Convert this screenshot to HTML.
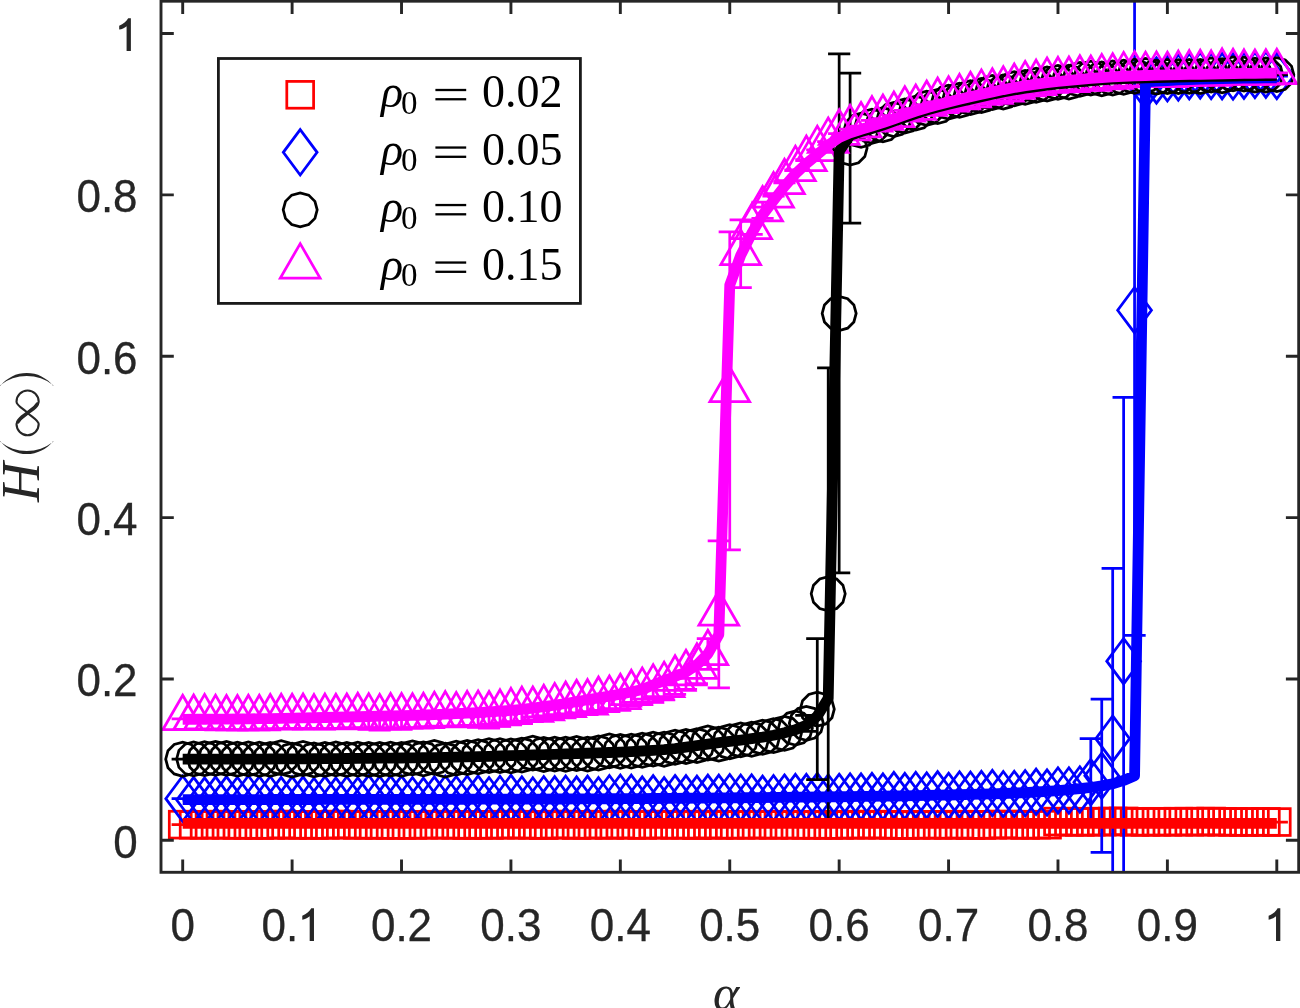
<!DOCTYPE html>
<html><head><meta charset="utf-8"><style>
html,body{margin:0;padding:0;background:#fff;}
svg{display:block;will-change:transform;}
</style></head><body>
<svg width="1300" height="1008" viewBox="0 0 1300 1008">
<rect width="1300" height="1008" fill="#fff"/>
<defs><clipPath id="c"><rect x="161.00" y="1.20" width="1137.70" height="871.10"/></clipPath></defs>
<g clip-path="url(#c)">
<g fill="none" stroke="#ff0000" stroke-width="2.75" stroke-linejoin="miter"><path d="M182.70 824.65V824.65M171.60 824.65H193.80M171.60 824.65H193.80M193.64 824.77V824.77M182.54 824.77H204.74M182.54 824.77H204.74M204.58 824.88V824.88M193.48 824.88H215.68M193.48 824.88H215.68M215.52 824.60V824.60M204.42 824.60H226.62M204.42 824.60H226.62M226.46 824.88V824.88M215.36 824.88H237.56M215.36 824.88H237.56M237.40 824.91V824.91M226.30 824.91H248.50M226.30 824.91H248.50M248.35 824.90V824.90M237.25 824.90H259.45M237.25 824.90H259.45M259.29 825.05V825.05M248.19 825.05H270.39M248.19 825.05H270.39M270.23 824.90V824.90M259.13 824.90H281.33M259.13 824.90H281.33M281.17 824.51V824.51M270.07 824.51H292.27M270.07 824.51H292.27M292.11 824.96V824.96M281.01 824.96H303.21M281.01 824.96H303.21M303.05 824.81V824.81M291.95 824.81H314.15M291.95 824.81H314.15M313.99 824.99V824.99M302.89 824.99H325.09M302.89 824.99H325.09M324.93 824.91V824.91M313.83 824.91H336.03M313.83 824.91H336.03M335.87 824.56V824.56M324.77 824.56H346.97M324.77 824.56H346.97M346.81 824.66V824.66M335.71 824.66H357.91M335.71 824.66H357.91M357.76 824.91V824.91M346.66 824.91H368.86M346.66 824.91H368.86M368.70 824.81V824.81M357.60 824.81H379.80M357.60 824.81H379.80M379.64 824.94V824.94M368.54 824.94H390.74M368.54 824.94H390.74M390.58 824.94V824.94M379.48 824.94H401.68M379.48 824.94H401.68M401.52 824.96V824.96M390.42 824.96H412.62M390.42 824.96H412.62M412.46 824.95V824.95M401.36 824.95H423.56M401.36 824.95H423.56M423.40 824.76V824.76M412.30 824.76H434.50M412.30 824.76H434.50M434.34 824.71V824.71M423.24 824.71H445.44M423.24 824.71H445.44M445.28 824.73V824.73M434.18 824.73H456.38M434.18 824.73H456.38M456.22 824.84V824.84M445.12 824.84H467.32M445.12 824.84H467.32M467.17 825.03V825.03M456.07 825.03H478.27M456.07 825.03H478.27M478.11 824.82V824.82M467.01 824.82H489.21M467.01 824.82H489.21M489.05 824.96V824.96M477.95 824.96H500.15M477.95 824.96H500.15M499.99 824.67V824.67M488.89 824.67H511.09M488.89 824.67H511.09M510.93 824.72V824.72M499.83 824.72H522.03M499.83 824.72H522.03M521.87 824.69V824.69M510.77 824.69H532.97M510.77 824.69H532.97M532.81 824.87V824.87M521.71 824.87H543.91M521.71 824.87H543.91M543.75 825.10V825.10M532.65 825.10H554.85M532.65 825.10H554.85M554.69 824.65V824.65M543.59 824.65H565.79M543.59 824.65H565.79M565.63 824.61V824.61M554.53 824.61H576.74M554.53 824.61H576.74M576.58 825.05V825.05M565.48 825.05H587.68M565.48 825.05H587.68M587.52 824.79V824.79M576.42 824.79H598.62M576.42 824.79H598.62M598.46 824.62V824.62M587.36 824.62H609.56M587.36 824.62H609.56M609.40 824.98V824.98M598.30 824.98H620.50M598.30 824.98H620.50M620.34 824.52V824.52M609.24 824.52H631.44M609.24 824.52H631.44M631.28 824.87V824.87M620.18 824.87H642.38M620.18 824.87H642.38M642.22 824.98V824.98M631.12 824.98H653.32M631.12 824.98H653.32M653.16 824.59V824.59M642.06 824.59H664.26M642.06 824.59H664.26M664.10 824.76V824.76M653.00 824.76H675.20M653.00 824.76H675.20M675.04 824.91V824.91M663.94 824.91H686.14M663.94 824.91H686.14M685.99 824.67V824.67M674.89 824.67H697.09M674.89 824.67H697.09M696.93 825.13V825.13M685.83 825.13H708.03M685.83 825.13H708.03M707.87 824.52V824.52M696.77 824.52H718.97M696.77 824.52H718.97M718.81 824.94V824.94M707.71 824.94H729.91M707.71 824.94H729.91M729.75 824.76V824.76M718.65 824.76H740.85M718.65 824.76H740.85M740.69 824.87V824.87M729.59 824.87H751.79M729.59 824.87H751.79M751.63 824.74V824.74M740.53 824.74H762.73M740.53 824.74H762.73M762.57 824.67V824.67M751.47 824.67H773.67M751.47 824.67H773.67M773.51 824.94V824.94M762.41 824.94H784.61M762.41 824.94H784.61M784.45 824.68V824.68M773.35 824.68H795.55M773.35 824.68H795.55M795.40 824.86V824.86M784.30 824.86H806.50M784.30 824.86H806.50M806.34 824.92V824.92M795.24 824.92H817.44M795.24 824.92H817.44M817.28 824.85V824.85M806.18 824.85H828.38M806.18 824.85H828.38M828.22 824.97V824.97M817.12 824.97H839.32M817.12 824.97H839.32M839.16 824.94V824.94M828.06 824.94H850.26M828.06 824.94H850.26M850.10 824.66V824.66M839.00 824.66H861.20M839.00 824.66H861.20M861.04 824.83V824.83M849.94 824.83H872.14M849.94 824.83H872.14M871.98 824.63V824.63M860.88 824.63H883.08M860.88 824.63H883.08M882.92 824.74V824.74M871.82 824.74H894.02M871.82 824.74H894.02M893.87 824.97V824.97M882.76 824.97H904.97M882.76 824.97H904.97M904.81 825.12V825.12M893.71 825.12H915.91M893.71 825.12H915.91M915.75 824.92V824.92M904.65 824.92H926.85M904.65 824.92H926.85M926.69 824.77V824.77M915.59 824.77H937.79M915.59 824.77H937.79M937.63 824.81V824.81M926.53 824.81H948.73M926.53 824.81H948.73M948.57 824.94V824.94M937.47 824.94H959.67M937.47 824.94H959.67M959.51 824.65V824.65M948.41 824.65H970.61M948.41 824.65H970.61M970.45 825.09V825.09M959.35 825.09H981.55M959.35 825.09H981.55M981.39 825.01V825.01M970.29 825.01H992.49M970.29 825.01H992.49M992.33 824.79V824.79M981.23 824.79H1003.43M981.23 824.79H1003.43M1003.27 824.46V824.46M992.17 824.46H1014.37M992.17 824.46H1014.37M1014.22 824.74V824.74M1003.12 824.74H1025.32M1003.12 824.74H1025.32M1025.16 824.97V824.97M1014.06 824.97H1036.26M1014.06 824.97H1036.26M1036.10 824.71V824.71M1025.00 824.71H1047.20M1025.00 824.71H1047.20M1047.04 824.70V824.70M1035.94 824.70H1058.14M1035.94 824.70H1058.14M1057.98 821.59V821.59M1046.88 821.59H1069.08M1046.88 821.59H1069.08M1068.92 821.81V821.81M1057.82 821.81H1080.02M1057.82 821.81H1080.02M1079.86 821.87V821.87M1068.76 821.87H1090.96M1068.76 821.87H1090.96M1090.80 821.72V821.72M1079.70 821.72H1101.90M1079.70 821.72H1101.90M1101.74 821.68V821.68M1090.64 821.68H1112.84M1090.64 821.68H1112.84M1112.68 821.49V821.49M1101.59 821.49H1123.78M1101.59 821.49H1123.78M1123.63 821.41V821.41M1112.53 821.41H1134.73M1112.53 821.41H1134.73M1134.57 821.86V821.86M1123.47 821.86H1145.67M1123.47 821.86H1145.67M1145.51 821.83V821.83M1134.41 821.83H1156.61M1134.41 821.83H1156.61M1156.45 821.75V821.75M1145.35 821.75H1167.55M1145.35 821.75H1167.55M1167.39 821.78V821.78M1156.29 821.78H1178.49M1156.29 821.78H1178.49M1178.33 821.67V821.67M1167.23 821.67H1189.43M1167.23 821.67H1189.43M1189.27 821.67V821.67M1178.17 821.67H1200.37M1178.17 821.67H1200.37M1200.21 821.70V821.70M1189.11 821.70H1211.31M1189.11 821.70H1211.31M1211.15 821.53V821.53M1200.05 821.53H1222.25M1200.05 821.53H1222.25M1222.09 821.77V821.77M1210.99 821.77H1233.19M1210.99 821.77H1233.19M1233.04 821.91V821.91M1221.94 821.91H1244.14M1221.94 821.91H1244.14M1243.98 822.00V822.00M1232.88 822.00H1255.08M1232.88 822.00H1255.08M1254.92 821.91V821.91M1243.82 821.91H1266.02M1243.82 821.91H1266.02M1265.86 821.91V821.91M1254.76 821.91H1276.96M1254.76 821.91H1276.96M1276.80 822.05V822.05M1265.70 822.05H1287.90M1265.70 822.05H1287.90"/><rect x="169.30" y="811.25" width="26.80" height="26.80"/><rect x="180.24" y="811.37" width="26.80" height="26.80"/><rect x="191.18" y="811.48" width="26.80" height="26.80"/><rect x="202.12" y="811.20" width="26.80" height="26.80"/><rect x="213.06" y="811.48" width="26.80" height="26.80"/><rect x="224.00" y="811.51" width="26.80" height="26.80"/><rect x="234.95" y="811.50" width="26.80" height="26.80"/><rect x="245.89" y="811.65" width="26.80" height="26.80"/><rect x="256.83" y="811.50" width="26.80" height="26.80"/><rect x="267.77" y="811.11" width="26.80" height="26.80"/><rect x="278.71" y="811.56" width="26.80" height="26.80"/><rect x="289.65" y="811.41" width="26.80" height="26.80"/><rect x="300.59" y="811.59" width="26.80" height="26.80"/><rect x="311.53" y="811.51" width="26.80" height="26.80"/><rect x="322.47" y="811.16" width="26.80" height="26.80"/><rect x="333.41" y="811.26" width="26.80" height="26.80"/><rect x="344.36" y="811.51" width="26.80" height="26.80"/><rect x="355.30" y="811.41" width="26.80" height="26.80"/><rect x="366.24" y="811.54" width="26.80" height="26.80"/><rect x="377.18" y="811.54" width="26.80" height="26.80"/><rect x="388.12" y="811.56" width="26.80" height="26.80"/><rect x="399.06" y="811.55" width="26.80" height="26.80"/><rect x="410.00" y="811.36" width="26.80" height="26.80"/><rect x="420.94" y="811.31" width="26.80" height="26.80"/><rect x="431.88" y="811.33" width="26.80" height="26.80"/><rect x="442.82" y="811.44" width="26.80" height="26.80"/><rect x="453.77" y="811.63" width="26.80" height="26.80"/><rect x="464.71" y="811.42" width="26.80" height="26.80"/><rect x="475.65" y="811.56" width="26.80" height="26.80"/><rect x="486.59" y="811.27" width="26.80" height="26.80"/><rect x="497.53" y="811.32" width="26.80" height="26.80"/><rect x="508.47" y="811.29" width="26.80" height="26.80"/><rect x="519.41" y="811.47" width="26.80" height="26.80"/><rect x="530.35" y="811.70" width="26.80" height="26.80"/><rect x="541.29" y="811.25" width="26.80" height="26.80"/><rect x="552.24" y="811.21" width="26.80" height="26.80"/><rect x="563.18" y="811.65" width="26.80" height="26.80"/><rect x="574.12" y="811.39" width="26.80" height="26.80"/><rect x="585.06" y="811.22" width="26.80" height="26.80"/><rect x="596.00" y="811.58" width="26.80" height="26.80"/><rect x="606.94" y="811.12" width="26.80" height="26.80"/><rect x="617.88" y="811.47" width="26.80" height="26.80"/><rect x="628.82" y="811.58" width="26.80" height="26.80"/><rect x="639.76" y="811.19" width="26.80" height="26.80"/><rect x="650.70" y="811.36" width="26.80" height="26.80"/><rect x="661.64" y="811.51" width="26.80" height="26.80"/><rect x="672.59" y="811.27" width="26.80" height="26.80"/><rect x="683.53" y="811.73" width="26.80" height="26.80"/><rect x="694.47" y="811.12" width="26.80" height="26.80"/><rect x="705.41" y="811.54" width="26.80" height="26.80"/><rect x="716.35" y="811.36" width="26.80" height="26.80"/><rect x="727.29" y="811.47" width="26.80" height="26.80"/><rect x="738.23" y="811.34" width="26.80" height="26.80"/><rect x="749.17" y="811.27" width="26.80" height="26.80"/><rect x="760.11" y="811.54" width="26.80" height="26.80"/><rect x="771.05" y="811.28" width="26.80" height="26.80"/><rect x="782.00" y="811.46" width="26.80" height="26.80"/><rect x="792.94" y="811.52" width="26.80" height="26.80"/><rect x="803.88" y="811.45" width="26.80" height="26.80"/><rect x="814.82" y="811.57" width="26.80" height="26.80"/><rect x="825.76" y="811.54" width="26.80" height="26.80"/><rect x="836.70" y="811.26" width="26.80" height="26.80"/><rect x="847.64" y="811.43" width="26.80" height="26.80"/><rect x="858.58" y="811.23" width="26.80" height="26.80"/><rect x="869.52" y="811.34" width="26.80" height="26.80"/><rect x="880.47" y="811.57" width="26.80" height="26.80"/><rect x="891.41" y="811.72" width="26.80" height="26.80"/><rect x="902.35" y="811.52" width="26.80" height="26.80"/><rect x="913.29" y="811.37" width="26.80" height="26.80"/><rect x="924.23" y="811.41" width="26.80" height="26.80"/><rect x="935.17" y="811.54" width="26.80" height="26.80"/><rect x="946.11" y="811.25" width="26.80" height="26.80"/><rect x="957.05" y="811.69" width="26.80" height="26.80"/><rect x="967.99" y="811.61" width="26.80" height="26.80"/><rect x="978.93" y="811.39" width="26.80" height="26.80"/><rect x="989.87" y="811.06" width="26.80" height="26.80"/><rect x="1000.82" y="811.34" width="26.80" height="26.80"/><rect x="1011.76" y="811.57" width="26.80" height="26.80"/><rect x="1022.70" y="811.31" width="26.80" height="26.80"/><rect x="1033.64" y="811.30" width="26.80" height="26.80"/><rect x="1044.58" y="808.19" width="26.80" height="26.80"/><rect x="1055.52" y="808.41" width="26.80" height="26.80"/><rect x="1066.46" y="808.47" width="26.80" height="26.80"/><rect x="1077.40" y="808.32" width="26.80" height="26.80"/><rect x="1088.34" y="808.28" width="26.80" height="26.80"/><rect x="1099.28" y="808.09" width="26.80" height="26.80"/><rect x="1110.23" y="808.01" width="26.80" height="26.80"/><rect x="1121.17" y="808.46" width="26.80" height="26.80"/><rect x="1132.11" y="808.43" width="26.80" height="26.80"/><rect x="1143.05" y="808.35" width="26.80" height="26.80"/><rect x="1153.99" y="808.38" width="26.80" height="26.80"/><rect x="1164.93" y="808.27" width="26.80" height="26.80"/><rect x="1175.87" y="808.27" width="26.80" height="26.80"/><rect x="1186.81" y="808.30" width="26.80" height="26.80"/><rect x="1197.75" y="808.13" width="26.80" height="26.80"/><rect x="1208.69" y="808.37" width="26.80" height="26.80"/><rect x="1219.64" y="808.51" width="26.80" height="26.80"/><rect x="1230.58" y="808.60" width="26.80" height="26.80"/><rect x="1241.52" y="808.51" width="26.80" height="26.80"/><rect x="1252.46" y="808.51" width="26.80" height="26.80"/><rect x="1263.40" y="808.65" width="26.80" height="26.80"/></g>
<g fill="none" stroke="#0000ff" stroke-width="2.75" stroke-linejoin="miter"><path d="M182.70 798.65V798.65M171.60 798.65H193.80M171.60 798.65H193.80M193.64 800.10V800.10M182.54 800.10H204.74M182.54 800.10H204.74M204.58 800.52V800.52M193.48 800.52H215.68M193.48 800.52H215.68M215.52 799.58V799.58M204.42 799.58H226.62M204.42 799.58H226.62M226.46 799.31V799.31M215.36 799.31H237.56M215.36 799.31H237.56M237.40 799.97V799.97M226.30 799.97H248.50M226.30 799.97H248.50M248.35 798.49V798.49M237.25 798.49H259.45M237.25 798.49H259.45M259.29 799.37V799.37M248.19 799.37H270.39M248.19 799.37H270.39M270.23 799.23V799.23M259.13 799.23H281.33M259.13 799.23H281.33M281.17 800.07V800.07M270.07 800.07H292.27M270.07 800.07H292.27M292.11 799.53V799.53M281.01 799.53H303.21M281.01 799.53H303.21M303.05 799.59V799.59M291.95 799.59H314.15M291.95 799.59H314.15M313.99 800.95V800.95M302.89 800.95H325.09M302.89 800.95H325.09M324.93 799.28V799.28M313.83 799.28H336.03M313.83 799.28H336.03M335.87 800.61V800.61M324.77 800.61H346.97M324.77 800.61H346.97M346.81 799.46V799.46M335.71 799.46H357.91M335.71 799.46H357.91M357.76 800.38V800.38M346.66 800.38H368.86M346.66 800.38H368.86M368.70 798.11V798.11M357.60 798.11H379.80M357.60 798.11H379.80M379.64 799.18V799.18M368.54 799.18H390.74M368.54 799.18H390.74M390.58 798.82V798.82M379.48 798.82H401.68M379.48 798.82H401.68M401.52 798.77V798.77M390.42 798.77H412.62M390.42 798.77H412.62M412.46 800.20V800.20M401.36 800.20H423.56M401.36 800.20H423.56M423.40 800.80V800.80M412.30 800.80H434.50M412.30 800.80H434.50M434.34 799.52V799.52M423.24 799.52H445.44M423.24 799.52H445.44M445.28 798.70V798.70M434.18 798.70H456.38M434.18 798.70H456.38M456.22 799.20V799.20M445.12 799.20H467.32M445.12 799.20H467.32M467.17 798.74V798.74M456.07 798.74H478.27M456.07 798.74H478.27M478.11 798.62V798.62M467.01 798.62H489.21M467.01 798.62H489.21M489.05 800.16V800.16M477.95 800.16H500.15M477.95 800.16H500.15M499.99 798.99V798.99M488.89 798.99H511.09M488.89 798.99H511.09M510.93 797.88V797.88M499.83 797.88H522.03M499.83 797.88H522.03M521.87 799.50V799.50M510.77 799.50H532.97M510.77 799.50H532.97M532.81 800.41V800.41M521.71 800.41H543.91M521.71 800.41H543.91M543.75 799.21V799.21M532.65 799.21H554.85M532.65 799.21H554.85M554.69 799.32V799.32M543.59 799.32H565.79M543.59 799.32H565.79M565.63 798.71V798.71M554.53 798.71H576.74M554.53 798.71H576.74M576.58 799.51V799.51M565.48 799.51H587.68M565.48 799.51H587.68M587.52 798.82V798.82M576.42 798.82H598.62M576.42 798.82H598.62M598.46 800.25V800.25M587.36 800.25H609.56M587.36 800.25H609.56M609.40 798.21V798.21M598.30 798.21H620.50M598.30 798.21H620.50M620.34 797.67V797.67M609.24 797.67H631.44M609.24 797.67H631.44M631.28 797.79V797.79M620.18 797.79H642.38M620.18 797.79H642.38M642.22 799.54V799.54M631.12 799.54H653.32M631.12 799.54H653.32M653.16 798.28V798.28M642.06 798.28H664.26M642.06 798.28H664.26M664.10 800.33V800.33M653.00 800.33H675.20M653.00 800.33H675.20M675.04 798.14V798.14M663.94 798.14H686.14M663.94 798.14H686.14M685.99 798.28V798.28M674.89 798.28H697.09M674.89 798.28H697.09M696.93 798.79V798.79M685.83 798.79H708.03M685.83 798.79H708.03M707.87 797.83V797.83M696.77 797.83H718.97M696.77 797.83H718.97M718.81 797.87V797.87M707.71 797.87H729.91M707.71 797.87H729.91M729.75 797.25V797.25M718.65 797.25H740.85M718.65 797.25H740.85M740.69 797.67V797.67M729.59 797.67H751.79M729.59 797.67H751.79M751.63 797.50V797.50M740.53 797.50H762.73M740.53 797.50H762.73M762.57 798.80V798.80M751.47 798.80H773.67M751.47 798.80H773.67M773.51 798.19V798.19M762.41 798.19H784.61M762.41 798.19H784.61M784.45 797.63V797.63M773.35 797.63H795.55M773.35 797.63H795.55M795.40 797.02V797.02M784.30 797.02H806.50M784.30 797.02H806.50M806.34 797.10V797.10M795.24 797.10H817.44M795.24 797.10H817.44M817.28 796.01V796.01M806.18 796.01H828.38M806.18 796.01H828.38M828.22 797.42V797.42M817.12 797.42H839.32M817.12 797.42H839.32M839.16 796.89V796.89M828.06 796.89H850.26M828.06 796.89H850.26M850.10 796.44V796.44M839.00 796.44H861.20M839.00 796.44H861.20M861.04 796.62V796.62M849.94 796.62H872.14M849.94 796.62H872.14M871.98 796.01V796.01M860.88 796.01H883.08M860.88 796.01H883.08M882.92 796.54V796.54M871.82 796.54H894.02M871.82 796.54H894.02M893.87 795.09V795.09M882.76 795.09H904.97M882.76 795.09H904.97M904.81 796.04V796.04M893.71 796.04H915.91M893.71 796.04H915.91M915.75 794.92V794.92M904.65 794.92H926.85M904.65 794.92H926.85M926.69 795.46V795.46M915.59 795.46H937.79M915.59 795.46H937.79M937.63 794.26V794.26M926.53 794.26H948.73M926.53 794.26H948.73M948.57 795.89V795.89M937.47 795.89H959.67M937.47 795.89H959.67M959.51 794.40V794.40M948.41 794.40H970.61M948.41 794.40H970.61M970.45 794.73V794.73M959.35 794.73H981.55M959.35 794.73H981.55M981.39 794.01V794.01M970.29 794.01H992.49M970.29 794.01H992.49M992.33 793.07V793.07M981.23 793.07H1003.43M981.23 793.07H1003.43M1003.27 794.24V794.24M992.17 794.24H1014.37M992.17 794.24H1014.37M1014.22 793.96V793.96M1003.12 793.96H1025.32M1003.12 793.96H1025.32M1025.16 793.25V793.25M1014.06 793.25H1036.26M1014.06 793.25H1036.26M1036.10 791.84V791.84M1025.00 791.84H1047.20M1025.00 791.84H1047.20M1047.04 792.53V792.53M1035.94 792.53H1058.14M1035.94 792.53H1058.14M1057.98 790.46V790.46M1046.88 790.46H1069.08M1046.88 790.46H1069.08M1068.92 790.47V790.47M1057.82 790.47H1080.02M1057.82 790.47H1080.02M1079.86 789.40V789.40M1068.76 789.40H1090.96M1068.76 789.40H1090.96M1090.80 738.64V825.78M1079.70 738.64H1101.90M1079.70 825.78H1101.90M1101.74 699.11V852.40M1090.64 699.11H1112.84M1090.64 852.40H1112.84M1112.68 568.41V908.88M1101.59 568.41H1123.78M1101.59 908.88H1123.78M1123.63 397.37V925.01M1112.53 397.37H1134.73M1112.53 925.01H1134.73M1134.57 -14.91V635.37M1123.47 -14.91H1145.67M1123.47 635.37H1145.67M1145.51 77.87V94.01M1134.41 77.87H1156.61M1134.41 94.01H1156.61M1156.45 80.48V80.48M1145.35 80.48H1167.55M1145.35 80.48H1167.55M1167.39 78.35V78.35M1156.29 78.35H1178.49M1156.29 78.35H1178.49M1178.33 77.43V77.43M1167.23 77.43H1189.43M1167.23 77.43H1189.43M1189.27 76.36V76.36M1178.17 76.36H1200.37M1178.17 76.36H1200.37M1200.21 75.43V75.43M1189.11 75.43H1211.31M1189.11 75.43H1211.31M1211.15 76.02V76.02M1200.05 76.02H1222.25M1200.05 76.02H1222.25M1222.09 76.13V76.13M1210.99 76.13H1233.19M1210.99 76.13H1233.19M1233.04 76.56V76.56M1221.94 76.56H1244.14M1221.94 76.56H1244.14M1243.98 75.68V75.68M1232.88 75.68H1255.08M1232.88 75.68H1255.08M1254.92 75.08V75.08M1243.82 75.08H1266.02M1243.82 75.08H1266.02M1265.86 74.67V74.67M1254.76 74.67H1276.96M1254.76 74.67H1276.96M1276.80 76.02V76.02M1265.70 76.02H1287.90M1265.70 76.02H1287.90"/><path d="M182.70 775.95L199.60 798.65L182.70 821.35L165.80 798.65Z"/><path d="M193.64 777.40L210.54 800.10L193.64 822.80L176.74 800.10Z"/><path d="M204.58 777.82L221.48 800.52L204.58 823.22L187.68 800.52Z"/><path d="M215.52 776.88L232.42 799.58L215.52 822.28L198.62 799.58Z"/><path d="M226.46 776.61L243.36 799.31L226.46 822.01L209.56 799.31Z"/><path d="M237.40 777.27L254.30 799.97L237.40 822.67L220.50 799.97Z"/><path d="M248.35 775.79L265.25 798.49L248.35 821.19L231.45 798.49Z"/><path d="M259.29 776.67L276.19 799.37L259.29 822.07L242.39 799.37Z"/><path d="M270.23 776.53L287.13 799.23L270.23 821.93L253.33 799.23Z"/><path d="M281.17 777.37L298.07 800.07L281.17 822.77L264.27 800.07Z"/><path d="M292.11 776.83L309.01 799.53L292.11 822.23L275.21 799.53Z"/><path d="M303.05 776.89L319.95 799.59L303.05 822.29L286.15 799.59Z"/><path d="M313.99 778.25L330.89 800.95L313.99 823.65L297.09 800.95Z"/><path d="M324.93 776.58L341.83 799.28L324.93 821.98L308.03 799.28Z"/><path d="M335.87 777.91L352.77 800.61L335.87 823.31L318.97 800.61Z"/><path d="M346.81 776.76L363.71 799.46L346.81 822.16L329.91 799.46Z"/><path d="M357.76 777.68L374.66 800.38L357.76 823.08L340.86 800.38Z"/><path d="M368.70 775.41L385.60 798.11L368.70 820.81L351.80 798.11Z"/><path d="M379.64 776.48L396.54 799.18L379.64 821.88L362.74 799.18Z"/><path d="M390.58 776.12L407.48 798.82L390.58 821.52L373.68 798.82Z"/><path d="M401.52 776.07L418.42 798.77L401.52 821.47L384.62 798.77Z"/><path d="M412.46 777.50L429.36 800.20L412.46 822.90L395.56 800.20Z"/><path d="M423.40 778.10L440.30 800.80L423.40 823.50L406.50 800.80Z"/><path d="M434.34 776.82L451.24 799.52L434.34 822.22L417.44 799.52Z"/><path d="M445.28 776.00L462.18 798.70L445.28 821.40L428.38 798.70Z"/><path d="M456.22 776.50L473.12 799.20L456.22 821.90L439.32 799.20Z"/><path d="M467.17 776.04L484.07 798.74L467.17 821.44L450.27 798.74Z"/><path d="M478.11 775.92L495.01 798.62L478.11 821.32L461.21 798.62Z"/><path d="M489.05 777.46L505.95 800.16L489.05 822.86L472.15 800.16Z"/><path d="M499.99 776.29L516.89 798.99L499.99 821.69L483.09 798.99Z"/><path d="M510.93 775.18L527.83 797.88L510.93 820.58L494.03 797.88Z"/><path d="M521.87 776.80L538.77 799.50L521.87 822.20L504.97 799.50Z"/><path d="M532.81 777.71L549.71 800.41L532.81 823.11L515.91 800.41Z"/><path d="M543.75 776.51L560.65 799.21L543.75 821.91L526.85 799.21Z"/><path d="M554.69 776.62L571.59 799.32L554.69 822.02L537.79 799.32Z"/><path d="M565.63 776.01L582.53 798.71L565.63 821.41L548.74 798.71Z"/><path d="M576.58 776.81L593.48 799.51L576.58 822.21L559.68 799.51Z"/><path d="M587.52 776.12L604.42 798.82L587.52 821.52L570.62 798.82Z"/><path d="M598.46 777.55L615.36 800.25L598.46 822.95L581.56 800.25Z"/><path d="M609.40 775.51L626.30 798.21L609.40 820.91L592.50 798.21Z"/><path d="M620.34 774.97L637.24 797.67L620.34 820.37L603.44 797.67Z"/><path d="M631.28 775.09L648.18 797.79L631.28 820.49L614.38 797.79Z"/><path d="M642.22 776.84L659.12 799.54L642.22 822.24L625.32 799.54Z"/><path d="M653.16 775.58L670.06 798.28L653.16 820.98L636.26 798.28Z"/><path d="M664.10 777.63L681.00 800.33L664.10 823.03L647.20 800.33Z"/><path d="M675.04 775.44L691.94 798.14L675.04 820.84L658.14 798.14Z"/><path d="M685.99 775.58L702.89 798.28L685.99 820.98L669.09 798.28Z"/><path d="M696.93 776.09L713.83 798.79L696.93 821.49L680.03 798.79Z"/><path d="M707.87 775.13L724.77 797.83L707.87 820.53L690.97 797.83Z"/><path d="M718.81 775.17L735.71 797.87L718.81 820.57L701.91 797.87Z"/><path d="M729.75 774.55L746.65 797.25L729.75 819.95L712.85 797.25Z"/><path d="M740.69 774.97L757.59 797.67L740.69 820.37L723.79 797.67Z"/><path d="M751.63 774.80L768.53 797.50L751.63 820.20L734.73 797.50Z"/><path d="M762.57 776.10L779.47 798.80L762.57 821.50L745.67 798.80Z"/><path d="M773.51 775.49L790.41 798.19L773.51 820.89L756.61 798.19Z"/><path d="M784.45 774.93L801.35 797.63L784.45 820.33L767.55 797.63Z"/><path d="M795.40 774.32L812.30 797.02L795.40 819.72L778.50 797.02Z"/><path d="M806.34 774.40L823.24 797.10L806.34 819.80L789.44 797.10Z"/><path d="M817.28 773.31L834.18 796.01L817.28 818.71L800.38 796.01Z"/><path d="M828.22 774.72L845.12 797.42L828.22 820.12L811.32 797.42Z"/><path d="M839.16 774.19L856.06 796.89L839.16 819.59L822.26 796.89Z"/><path d="M850.10 773.74L867.00 796.44L850.10 819.14L833.20 796.44Z"/><path d="M861.04 773.92L877.94 796.62L861.04 819.32L844.14 796.62Z"/><path d="M871.98 773.31L888.88 796.01L871.98 818.71L855.08 796.01Z"/><path d="M882.92 773.84L899.82 796.54L882.92 819.24L866.02 796.54Z"/><path d="M893.87 772.39L910.76 795.09L893.87 817.79L876.97 795.09Z"/><path d="M904.81 773.34L921.71 796.04L904.81 818.74L887.91 796.04Z"/><path d="M915.75 772.22L932.65 794.92L915.75 817.62L898.85 794.92Z"/><path d="M926.69 772.76L943.59 795.46L926.69 818.16L909.79 795.46Z"/><path d="M937.63 771.56L954.53 794.26L937.63 816.96L920.73 794.26Z"/><path d="M948.57 773.19L965.47 795.89L948.57 818.59L931.67 795.89Z"/><path d="M959.51 771.70L976.41 794.40L959.51 817.10L942.61 794.40Z"/><path d="M970.45 772.03L987.35 794.73L970.45 817.43L953.55 794.73Z"/><path d="M981.39 771.31L998.29 794.01L981.39 816.71L964.49 794.01Z"/><path d="M992.33 770.37L1009.23 793.07L992.33 815.77L975.43 793.07Z"/><path d="M1003.27 771.54L1020.17 794.24L1003.27 816.94L986.37 794.24Z"/><path d="M1014.22 771.26L1031.12 793.96L1014.22 816.66L997.32 793.96Z"/><path d="M1025.16 770.55L1042.06 793.25L1025.16 815.95L1008.26 793.25Z"/><path d="M1036.10 769.14L1053.00 791.84L1036.10 814.54L1019.20 791.84Z"/><path d="M1047.04 769.83L1063.94 792.53L1047.04 815.23L1030.14 792.53Z"/><path d="M1057.98 767.76L1074.88 790.46L1057.98 813.16L1041.08 790.46Z"/><path d="M1068.92 767.77L1085.82 790.47L1068.92 813.17L1052.02 790.47Z"/><path d="M1079.86 766.70L1096.76 789.40L1079.86 812.10L1062.96 789.40Z"/><path d="M1090.80 759.51L1107.70 782.21L1090.80 804.91L1073.90 782.21Z"/><path d="M1101.74 753.06L1118.64 775.76L1101.74 798.46L1084.84 775.76Z"/><path d="M1112.68 715.94L1129.59 738.64L1112.68 761.34L1095.78 738.64Z"/><path d="M1123.63 638.49L1140.53 661.19L1123.63 683.89L1106.73 661.19Z"/><path d="M1134.57 287.53L1151.47 310.23L1134.57 332.93L1117.67 310.23Z"/><path d="M1145.51 63.24L1162.41 85.94L1145.51 108.64L1128.61 85.94Z"/><path d="M1156.45 57.78L1173.35 80.48L1156.45 103.18L1139.55 80.48Z"/><path d="M1167.39 55.65L1184.29 78.35L1167.39 101.05L1150.49 78.35Z"/><path d="M1178.33 54.73L1195.23 77.43L1178.33 100.13L1161.43 77.43Z"/><path d="M1189.27 53.66L1206.17 76.36L1189.27 99.06L1172.37 76.36Z"/><path d="M1200.21 52.73L1217.11 75.43L1200.21 98.13L1183.31 75.43Z"/><path d="M1211.15 53.32L1228.05 76.02L1211.15 98.72L1194.25 76.02Z"/><path d="M1222.09 53.43L1238.99 76.13L1222.09 98.83L1205.19 76.13Z"/><path d="M1233.04 53.86L1249.94 76.56L1233.04 99.26L1216.14 76.56Z"/><path d="M1243.98 52.98L1260.88 75.68L1243.98 98.38L1227.08 75.68Z"/><path d="M1254.92 52.38L1271.82 75.08L1254.92 97.78L1238.02 75.08Z"/><path d="M1265.86 51.97L1282.76 74.67L1265.86 97.37L1248.96 74.67Z"/><path d="M1276.80 53.32L1293.70 76.02L1276.80 98.72L1259.90 76.02Z"/></g>
<g fill="none" stroke="#000000" stroke-width="2.75" stroke-linejoin="miter"><path d="M182.70 759.23V759.23M171.60 759.23H193.80M171.60 759.23H193.80M193.64 758.90V758.90M182.54 758.90H204.74M182.54 758.90H204.74M204.58 758.70V758.70M193.48 758.70H215.68M193.48 758.70H215.68M215.52 758.30V758.30M204.42 758.30H226.62M204.42 758.30H226.62M226.46 758.42V758.42M215.36 758.42H237.56M215.36 758.42H237.56M237.40 759.19V759.19M226.30 759.19H248.50M226.30 759.19H248.50M248.35 758.83V758.83M237.25 758.83H259.45M237.25 758.83H259.45M259.29 759.29V759.29M248.19 759.29H270.39M248.19 759.29H270.39M270.23 759.37V759.37M259.13 759.37H281.33M259.13 759.37H281.33M281.17 757.70V757.70M270.07 757.70H292.27M270.07 757.70H292.27M292.11 760.13V760.13M281.01 760.13H303.21M281.01 760.13H303.21M303.05 758.48V758.48M291.95 758.48H314.15M291.95 758.48H314.15M313.99 759.92V759.92M302.89 759.92H325.09M302.89 759.92H325.09M324.93 759.45V759.45M313.83 759.45H336.03M313.83 759.45H336.03M335.87 758.83V758.83M324.77 758.83H346.97M324.77 758.83H346.97M346.81 759.43V759.43M335.71 759.43H357.91M335.71 759.43H357.91M357.76 759.11V759.11M346.66 759.11H368.86M346.66 759.11H368.86M368.70 759.42V759.42M357.60 759.42H379.80M357.60 759.42H379.80M379.64 759.48V759.48M368.54 759.48H390.74M368.54 759.48H390.74M390.58 759.18V759.18M379.48 759.18H401.68M379.48 759.18H401.68M401.52 759.39V759.39M390.42 759.39H412.62M390.42 759.39H412.62M412.46 757.80V757.80M401.36 757.80H423.56M401.36 757.80H423.56M423.40 758.81V758.81M412.30 758.81H434.50M412.30 758.81H434.50M434.34 757.42V757.42M423.24 757.42H445.44M423.24 757.42H445.44M445.28 760.06V760.06M434.18 760.06H456.38M434.18 760.06H456.38M456.22 758.08V758.08M445.12 758.08H467.32M445.12 758.08H467.32M467.17 757.48V757.48M456.07 757.48H478.27M456.07 757.48H478.27M478.11 756.79V756.79M467.01 756.79H489.21M467.01 756.79H489.21M489.05 755.60V755.60M477.95 755.60H500.15M477.95 755.60H500.15M499.99 755.59V755.59M488.89 755.59H511.09M488.89 755.59H511.09M510.93 755.86V755.86M499.83 755.86H522.03M499.83 755.86H522.03M521.87 755.07V755.07M510.77 755.07H532.97M510.77 755.07H532.97M532.81 753.20V753.20M521.71 753.20H543.91M521.71 753.20H543.91M543.75 754.51V754.51M532.65 754.51H554.85M532.65 754.51H554.85M554.69 754.13V754.13M543.59 754.13H565.79M543.59 754.13H565.79M565.63 754.26V754.26M554.53 754.26H576.74M554.53 754.26H576.74M576.58 753.54V753.54M565.48 753.54H587.68M565.48 753.54H587.68M587.52 754.10V754.10M576.42 754.10H598.62M576.42 754.10H598.62M598.46 753.02V753.02M587.36 753.02H609.56M587.36 753.02H609.56M609.40 750.90V750.90M598.30 750.90H620.50M598.30 750.90H620.50M620.34 751.35V751.35M609.24 751.35H631.44M609.24 751.35H631.44M631.28 751.13V751.13M620.18 751.13H642.38M620.18 751.13H642.38M642.22 750.27V750.27M631.12 750.27H653.32M631.12 750.27H653.32M653.16 749.14V749.14M642.06 749.14H664.26M642.06 749.14H664.26M664.10 749.23V749.23M653.00 749.23H675.20M653.00 749.23H675.20M675.04 747.21V747.21M663.94 747.21H686.14M663.94 747.21H686.14M685.99 746.51V746.51M674.89 746.51H697.09M674.89 746.51H697.09M696.93 745.58V745.58M685.83 745.58H708.03M685.83 745.58H708.03M707.87 743.04V743.04M696.77 743.04H718.97M696.77 743.04H718.97M718.81 744.20V744.20M707.71 744.20H729.91M707.71 744.20H729.91M729.75 741.72V741.72M718.65 741.72H740.85M718.65 741.72H740.85M740.69 739.89V739.89M729.59 739.89H751.79M729.59 739.89H751.79M751.63 739.29V739.29M740.53 739.29H762.73M740.53 739.29H762.73M762.57 737.23V737.23M751.47 737.23H773.67M751.47 737.23H773.67M773.51 735.64V735.64M762.41 735.64H784.61M762.41 735.64H784.61M784.45 733.30V733.30M773.35 733.30H795.55M773.35 733.30H795.55M795.40 728.02V728.02M784.30 728.02H806.50M784.30 728.02H806.50M806.34 715.25V731.38M795.24 715.25H817.44M795.24 731.38H817.44M817.28 638.68V779.71M806.18 638.68H828.38M806.18 779.71H828.38M828.22 367.84V819.65M817.12 367.84H839.32M817.12 819.65H839.32M839.16 53.99V572.93M828.06 53.99H850.26M828.06 572.93H850.26M850.10 73.03V223.10M839.00 73.03H861.20M839.00 223.10H861.20M861.04 130.26V130.26M849.94 130.26H872.14M849.94 130.26H872.14M871.98 126.23V126.23M860.88 126.23H883.08M860.88 126.23H883.08M882.92 124.78V124.78M871.82 124.78H894.02M871.82 124.78H894.02M893.87 119.53V119.53M882.76 119.53H904.97M882.76 119.53H904.97M904.81 116.03V116.03M893.71 116.03H915.91M893.71 116.03H915.91M915.75 113.09V113.09M904.65 113.09H926.85M904.65 113.09H926.85M926.69 108.25V108.25M915.59 108.25H937.79M915.59 108.25H937.79M937.63 106.50V106.50M926.53 106.50H948.73M926.53 106.50H948.73M948.57 102.12V102.12M937.47 102.12H959.67M937.47 102.12H959.67M959.51 100.23V100.23M948.41 100.23H970.61M948.41 100.23H970.61M970.45 97.60V97.60M959.35 97.60H981.55M959.35 97.60H981.55M981.39 95.48V95.48M970.29 95.48H992.49M970.29 95.48H992.49M992.33 92.48V92.48M981.23 92.48H1003.43M981.23 92.48H1003.43M1003.27 91.98V91.98M992.17 91.98H1014.37M992.17 91.98H1014.37M1014.22 88.72V88.72M1003.12 88.72H1025.32M1003.12 88.72H1025.32M1025.16 87.41V87.41M1014.06 87.41H1036.26M1014.06 87.41H1036.26M1036.10 85.21V85.21M1025.00 85.21H1047.20M1025.00 85.21H1047.20M1047.04 83.98V83.98M1035.94 83.98H1058.14M1035.94 83.98H1058.14M1057.98 82.32V82.32M1046.88 82.32H1069.08M1046.88 82.32H1069.08M1068.92 82.14V82.14M1057.82 82.14H1080.02M1057.82 82.14H1080.02M1079.86 79.36V79.36M1068.76 79.36H1090.96M1068.76 79.36H1090.96M1090.80 78.08V78.08M1079.70 78.08H1101.90M1079.70 78.08H1101.90M1101.74 78.85V78.85M1090.64 78.85H1112.84M1090.64 78.85H1112.84M1112.68 78.02V78.02M1101.59 78.02H1123.78M1101.59 78.02H1123.78M1123.63 77.28V77.28M1112.53 77.28H1134.73M1112.53 77.28H1134.73M1134.57 76.25V76.25M1123.47 76.25H1145.67M1123.47 76.25H1145.67M1145.51 75.49V75.49M1134.41 75.49H1156.61M1134.41 75.49H1156.61M1156.45 77.18V77.18M1145.35 77.18H1167.55M1145.35 77.18H1167.55M1167.39 76.53V76.53M1156.29 76.53H1178.49M1156.29 76.53H1178.49M1178.33 76.58V76.58M1167.23 76.58H1189.43M1167.23 76.58H1189.43M1189.27 76.39V76.39M1178.17 76.39H1200.37M1178.17 76.39H1200.37M1200.21 76.51V76.51M1189.11 76.51H1211.31M1189.11 76.51H1211.31M1211.15 75.01V75.01M1200.05 75.01H1222.25M1200.05 75.01H1222.25M1222.09 75.79V75.79M1210.99 75.79H1233.19M1210.99 75.79H1233.19M1233.04 73.88V73.88M1221.94 73.88H1244.14M1221.94 73.88H1244.14M1243.98 74.09V74.09M1232.88 74.09H1255.08M1232.88 74.09H1255.08M1254.92 75.18V75.18M1243.82 75.18H1266.02M1243.82 75.18H1266.02M1265.86 75.03V75.03M1254.76 75.03H1276.96M1254.76 75.03H1276.96M1276.80 74.64V74.64M1265.70 74.64H1287.90M1265.70 74.64H1287.90"/><polygon points="199.70,759.23 197.42,750.73 191.20,744.51 182.70,742.23 174.20,744.51 167.98,750.73 165.70,759.23 167.98,767.73 174.20,773.95 182.70,776.23 191.20,773.95 197.42,767.73"/><polygon points="210.64,758.90 208.36,750.40 202.14,744.18 193.64,741.90 185.14,744.18 178.92,750.40 176.64,758.90 178.92,767.40 185.14,773.62 193.64,775.90 202.14,773.62 208.36,767.40"/><polygon points="221.58,758.70 219.30,750.20 213.08,743.98 204.58,741.70 196.08,743.98 189.86,750.20 187.58,758.70 189.86,767.20 196.08,773.43 204.58,775.70 213.08,773.43 219.30,767.20"/><polygon points="232.52,758.30 230.25,749.80 224.02,743.58 215.52,741.30 207.02,743.58 200.80,749.80 198.52,758.30 200.80,766.80 207.02,773.02 215.52,775.30 224.02,773.02 230.25,766.80"/><polygon points="243.46,758.42 241.19,749.92 234.96,743.69 226.46,741.42 217.96,743.69 211.74,749.92 209.46,758.42 211.74,766.92 217.96,773.14 226.46,775.42 234.96,773.14 241.19,766.92"/><polygon points="254.40,759.19 252.13,750.69 245.90,744.47 237.40,742.19 228.90,744.47 222.68,750.69 220.40,759.19 222.68,767.69 228.90,773.92 237.40,776.19 245.90,773.92 252.13,767.69"/><polygon points="265.35,758.83 263.07,750.33 256.85,744.11 248.35,741.83 239.85,744.11 233.62,750.33 231.35,758.83 233.62,767.33 239.85,773.56 248.35,775.83 256.85,773.56 263.07,767.33"/><polygon points="276.29,759.29 274.01,750.79 267.79,744.57 259.29,742.29 250.79,744.57 244.56,750.79 242.29,759.29 244.56,767.79 250.79,774.01 259.29,776.29 267.79,774.01 274.01,767.79"/><polygon points="287.23,759.37 284.95,750.87 278.73,744.64 270.23,742.37 261.73,744.64 255.51,750.87 253.23,759.37 255.51,767.87 261.73,774.09 270.23,776.37 278.73,774.09 284.95,767.87"/><polygon points="298.17,757.70 295.89,749.20 289.67,742.97 281.17,740.70 272.67,742.97 266.45,749.20 264.17,757.70 266.45,766.20 272.67,772.42 281.17,774.70 289.67,772.42 295.89,766.20"/><polygon points="309.11,760.13 306.83,751.63 300.61,745.41 292.11,743.13 283.61,745.41 277.39,751.63 275.11,760.13 277.39,768.63 283.61,774.85 292.11,777.13 300.61,774.85 306.83,768.63"/><polygon points="320.05,758.48 317.77,749.98 311.55,743.76 303.05,741.48 294.55,743.76 288.33,749.98 286.05,758.48 288.33,766.98 294.55,773.20 303.05,775.48 311.55,773.20 317.77,766.98"/><polygon points="330.99,759.92 328.71,751.42 322.49,745.20 313.99,742.92 305.49,745.20 299.27,751.42 296.99,759.92 299.27,768.42 305.49,774.64 313.99,776.92 322.49,774.64 328.71,768.42"/><polygon points="341.93,759.45 339.66,750.95 333.43,744.73 324.93,742.45 316.43,744.73 310.21,750.95 307.93,759.45 310.21,767.95 316.43,774.18 324.93,776.45 333.43,774.18 339.66,767.95"/><polygon points="352.87,758.83 350.60,750.33 344.37,744.11 335.87,741.83 327.37,744.11 321.15,750.33 318.87,758.83 321.15,767.33 327.37,773.55 335.87,775.83 344.37,773.55 350.60,767.33"/><polygon points="363.81,759.43 361.54,750.93 355.31,744.71 346.81,742.43 338.31,744.71 332.09,750.93 329.81,759.43 332.09,767.93 338.31,774.16 346.81,776.43 355.31,774.16 361.54,767.93"/><polygon points="374.76,759.11 372.48,750.61 366.26,744.39 357.76,742.11 349.26,744.39 343.03,750.61 340.76,759.11 343.03,767.61 349.26,773.83 357.76,776.11 366.26,773.83 372.48,767.61"/><polygon points="385.70,759.42 383.42,750.92 377.20,744.70 368.70,742.42 360.20,744.70 353.97,750.92 351.70,759.42 353.97,767.92 360.20,774.15 368.70,776.42 377.20,774.15 383.42,767.92"/><polygon points="396.64,759.48 394.36,750.98 388.14,744.76 379.64,742.48 371.14,744.76 364.92,750.98 362.64,759.48 364.92,767.98 371.14,774.20 379.64,776.48 388.14,774.20 394.36,767.98"/><polygon points="407.58,759.18 405.30,750.68 399.08,744.46 390.58,742.18 382.08,744.46 375.86,750.68 373.58,759.18 375.86,767.68 382.08,773.90 390.58,776.18 399.08,773.90 405.30,767.68"/><polygon points="418.52,759.39 416.24,750.89 410.02,744.67 401.52,742.39 393.02,744.67 386.80,750.89 384.52,759.39 386.80,767.89 393.02,774.12 401.52,776.39 410.02,774.12 416.24,767.89"/><polygon points="429.46,757.80 427.18,749.30 420.96,743.08 412.46,740.80 403.96,743.08 397.74,749.30 395.46,757.80 397.74,766.30 403.96,772.53 412.46,774.80 420.96,772.53 427.18,766.30"/><polygon points="440.40,758.81 438.12,750.31 431.90,744.09 423.40,741.81 414.90,744.09 408.68,750.31 406.40,758.81 408.68,767.31 414.90,773.54 423.40,775.81 431.90,773.54 438.12,767.31"/><polygon points="451.34,757.42 449.07,748.92 442.84,742.69 434.34,740.42 425.84,742.69 419.62,748.92 417.34,757.42 419.62,765.92 425.84,772.14 434.34,774.42 442.84,772.14 449.07,765.92"/><polygon points="462.28,760.06 460.01,751.56 453.78,745.33 445.28,743.06 436.78,745.33 430.56,751.56 428.28,760.06 430.56,768.56 436.78,774.78 445.28,777.06 453.78,774.78 460.01,768.56"/><polygon points="473.22,758.08 470.95,749.58 464.72,743.36 456.22,741.08 447.72,743.36 441.50,749.58 439.22,758.08 441.50,766.58 447.72,772.80 456.22,775.08 464.72,772.80 470.95,766.58"/><polygon points="484.17,757.48 481.89,748.98 475.67,742.75 467.17,740.48 458.67,742.75 452.44,748.98 450.17,757.48 452.44,765.98 458.67,772.20 467.17,774.48 475.67,772.20 481.89,765.98"/><polygon points="495.11,756.79 492.83,748.29 486.61,742.07 478.11,739.79 469.61,742.07 463.38,748.29 461.11,756.79 463.38,765.29 469.61,771.51 478.11,773.79 486.61,771.51 492.83,765.29"/><polygon points="506.05,755.60 503.77,747.10 497.55,740.88 489.05,738.60 480.55,740.88 474.33,747.10 472.05,755.60 474.33,764.10 480.55,770.32 489.05,772.60 497.55,770.32 503.77,764.10"/><polygon points="516.99,755.59 514.71,747.09 508.49,740.87 499.99,738.59 491.49,740.87 485.27,747.09 482.99,755.59 485.27,764.09 491.49,770.31 499.99,772.59 508.49,770.31 514.71,764.09"/><polygon points="527.93,755.86 525.65,747.36 519.43,741.14 510.93,738.86 502.43,741.14 496.21,747.36 493.93,755.86 496.21,764.36 502.43,770.58 510.93,772.86 519.43,770.58 525.65,764.36"/><polygon points="538.87,755.07 536.59,746.57 530.37,740.35 521.87,738.07 513.37,740.35 507.15,746.57 504.87,755.07 507.15,763.57 513.37,769.80 521.87,772.07 530.37,769.80 536.59,763.57"/><polygon points="549.81,753.20 547.53,744.70 541.31,738.48 532.81,736.20 524.31,738.48 518.09,744.70 515.81,753.20 518.09,761.70 524.31,767.92 532.81,770.20 541.31,767.92 547.53,761.70"/><polygon points="560.75,754.51 558.48,746.01 552.25,739.79 543.75,737.51 535.25,739.79 529.03,746.01 526.75,754.51 529.03,763.01 535.25,769.23 543.75,771.51 552.25,769.23 558.48,763.01"/><polygon points="571.69,754.13 569.42,745.63 563.19,739.41 554.69,737.13 546.19,739.41 539.97,745.63 537.69,754.13 539.97,762.63 546.19,768.85 554.69,771.13 563.19,768.85 569.42,762.63"/><polygon points="582.63,754.26 580.36,745.76 574.13,739.53 565.63,737.26 557.13,739.53 550.91,745.76 548.63,754.26 550.91,762.76 557.13,768.98 565.63,771.26 574.13,768.98 580.36,762.76"/><polygon points="593.58,753.54 591.30,745.04 585.08,738.81 576.58,736.54 568.08,738.81 561.85,745.04 559.58,753.54 561.85,762.04 568.08,768.26 576.58,770.54 585.08,768.26 591.30,762.04"/><polygon points="604.52,754.10 602.24,745.60 596.02,739.37 587.52,737.10 579.02,739.37 572.79,745.60 570.52,754.10 572.79,762.60 579.02,768.82 587.52,771.10 596.02,768.82 602.24,762.60"/><polygon points="615.46,753.02 613.18,744.52 606.96,738.29 598.46,736.02 589.96,738.29 583.74,744.52 581.46,753.02 583.74,761.52 589.96,767.74 598.46,770.02 606.96,767.74 613.18,761.52"/><polygon points="626.40,750.90 624.12,742.40 617.90,736.17 609.40,733.90 600.90,736.17 594.68,742.40 592.40,750.90 594.68,759.40 600.90,765.62 609.40,767.90 617.90,765.62 624.12,759.40"/><polygon points="637.34,751.35 635.06,742.85 628.84,736.63 620.34,734.35 611.84,736.63 605.62,742.85 603.34,751.35 605.62,759.85 611.84,766.07 620.34,768.35 628.84,766.07 635.06,759.85"/><polygon points="648.28,751.13 646.00,742.63 639.78,736.41 631.28,734.13 622.78,736.41 616.56,742.63 614.28,751.13 616.56,759.63 622.78,765.85 631.28,768.13 639.78,765.85 646.00,759.63"/><polygon points="659.22,750.27 656.94,741.77 650.72,735.55 642.22,733.27 633.72,735.55 627.50,741.77 625.22,750.27 627.50,758.77 633.72,765.00 642.22,767.27 650.72,765.00 656.94,758.77"/><polygon points="670.16,749.14 667.89,740.64 661.66,734.42 653.16,732.14 644.66,734.42 638.44,740.64 636.16,749.14 638.44,757.64 644.66,763.86 653.16,766.14 661.66,763.86 667.89,757.64"/><polygon points="681.10,749.23 678.83,740.73 672.60,734.51 664.10,732.23 655.60,734.51 649.38,740.73 647.10,749.23 649.38,757.73 655.60,763.95 664.10,766.23 672.60,763.95 678.83,757.73"/><polygon points="692.04,747.21 689.77,738.71 683.54,732.49 675.04,730.21 666.54,732.49 660.32,738.71 658.04,747.21 660.32,755.71 666.54,761.93 675.04,764.21 683.54,761.93 689.77,755.71"/><polygon points="702.99,746.51 700.71,738.01 694.49,731.79 685.99,729.51 677.49,731.79 671.26,738.01 668.99,746.51 671.26,755.01 677.49,761.23 685.99,763.51 694.49,761.23 700.71,755.01"/><polygon points="713.93,745.58 711.65,737.08 705.43,730.86 696.93,728.58 688.43,730.86 682.20,737.08 679.93,745.58 682.20,754.08 688.43,760.31 696.93,762.58 705.43,760.31 711.65,754.08"/><polygon points="724.87,743.04 722.59,734.54 716.37,728.31 707.87,726.04 699.37,728.31 693.15,734.54 690.87,743.04 693.15,751.54 699.37,757.76 707.87,760.04 716.37,757.76 722.59,751.54"/><polygon points="735.81,744.20 733.53,735.70 727.31,729.48 718.81,727.20 710.31,729.48 704.09,735.70 701.81,744.20 704.09,752.70 710.31,758.92 718.81,761.20 727.31,758.92 733.53,752.70"/><polygon points="746.75,741.72 744.47,733.22 738.25,727.00 729.75,724.72 721.25,727.00 715.03,733.22 712.75,741.72 715.03,750.22 721.25,756.44 729.75,758.72 738.25,756.44 744.47,750.22"/><polygon points="757.69,739.89 755.41,731.39 749.19,725.17 740.69,722.89 732.19,725.17 725.97,731.39 723.69,739.89 725.97,748.39 732.19,754.62 740.69,756.89 749.19,754.62 755.41,748.39"/><polygon points="768.63,739.29 766.35,730.79 760.13,724.56 751.63,722.29 743.13,724.56 736.91,730.79 734.63,739.29 736.91,747.79 743.13,754.01 751.63,756.29 760.13,754.01 766.35,747.79"/><polygon points="779.57,737.23 777.30,728.73 771.07,722.50 762.57,720.23 754.07,722.50 747.85,728.73 745.57,737.23 747.85,745.73 754.07,751.95 762.57,754.23 771.07,751.95 777.30,745.73"/><polygon points="790.51,735.64 788.24,727.14 782.01,720.92 773.51,718.64 765.01,720.92 758.79,727.14 756.51,735.64 758.79,744.14 765.01,750.37 773.51,752.64 782.01,750.37 788.24,744.14"/><polygon points="801.45,733.30 799.18,724.80 792.95,718.58 784.45,716.30 775.95,718.58 769.73,724.80 767.45,733.30 769.73,741.80 775.95,748.02 784.45,750.30 792.95,748.02 799.18,741.80"/><polygon points="812.40,728.02 810.12,719.52 803.90,713.30 795.40,711.02 786.90,713.30 780.67,719.52 778.40,728.02 780.67,736.52 786.90,742.74 795.40,745.02 803.90,742.74 810.12,736.52"/><polygon points="823.34,723.31 821.06,714.81 814.84,708.59 806.34,706.31 797.84,708.59 791.61,714.81 789.34,723.31 791.61,731.81 797.84,738.04 806.34,740.31 814.84,738.04 821.06,731.81"/><polygon points="834.28,709.19 832.00,700.69 825.78,694.47 817.28,692.19 808.78,694.47 802.56,700.69 800.28,709.19 802.56,717.69 808.78,723.92 817.28,726.19 825.78,723.92 832.00,717.69"/><polygon points="845.22,593.74 842.94,585.24 836.72,579.02 828.22,576.74 819.72,579.02 813.50,585.24 811.22,593.74 813.50,602.24 819.72,608.46 828.22,610.74 836.72,608.46 842.94,602.24"/><polygon points="856.16,313.46 853.88,304.96 847.66,298.74 839.16,296.46 830.66,298.74 824.44,304.96 822.16,313.46 824.44,321.96 830.66,328.18 839.16,330.46 847.66,328.18 853.88,321.96"/><polygon points="867.10,148.07 864.82,139.57 858.60,133.34 850.10,131.07 841.60,133.34 835.38,139.57 833.10,148.07 835.38,156.57 841.60,162.79 850.10,165.07 858.60,162.79 864.82,156.57"/><polygon points="878.04,130.26 875.76,121.76 869.54,115.53 861.04,113.26 852.54,115.53 846.32,121.76 844.04,130.26 846.32,138.76 852.54,144.98 861.04,147.26 869.54,144.98 875.76,138.76"/><polygon points="888.98,126.23 886.71,117.73 880.48,111.51 871.98,109.23 863.48,111.51 857.26,117.73 854.98,126.23 857.26,134.73 863.48,140.95 871.98,143.23 880.48,140.95 886.71,134.73"/><polygon points="899.92,124.78 897.65,116.28 891.42,110.06 882.92,107.78 874.42,110.06 868.20,116.28 865.92,124.78 868.20,133.28 874.42,139.50 882.92,141.78 891.42,139.50 897.65,133.28"/><polygon points="910.87,119.53 908.59,111.03 902.37,104.80 893.87,102.53 885.37,104.80 879.14,111.03 876.87,119.53 879.14,128.03 885.37,134.25 893.87,136.53 902.37,134.25 908.59,128.03"/><polygon points="921.81,116.03 919.53,107.53 913.31,101.31 904.81,99.03 896.31,101.31 890.08,107.53 887.81,116.03 890.08,124.53 896.31,130.75 904.81,133.03 913.31,130.75 919.53,124.53"/><polygon points="932.75,113.09 930.47,104.59 924.25,98.36 915.75,96.09 907.25,98.36 901.02,104.59 898.75,113.09 901.02,121.59 907.25,127.81 915.75,130.09 924.25,127.81 930.47,121.59"/><polygon points="943.69,108.25 941.41,99.75 935.19,93.53 926.69,91.25 918.19,93.53 911.97,99.75 909.69,108.25 911.97,116.75 918.19,122.97 926.69,125.25 935.19,122.97 941.41,116.75"/><polygon points="954.63,106.50 952.35,98.00 946.13,91.77 937.63,89.50 929.13,91.77 922.91,98.00 920.63,106.50 922.91,115.00 929.13,121.22 937.63,123.50 946.13,121.22 952.35,115.00"/><polygon points="965.57,102.12 963.29,93.62 957.07,87.40 948.57,85.12 940.07,87.40 933.85,93.62 931.57,102.12 933.85,110.62 940.07,116.85 948.57,119.12 957.07,116.85 963.29,110.62"/><polygon points="976.51,100.23 974.23,91.73 968.01,85.51 959.51,83.23 951.01,85.51 944.79,91.73 942.51,100.23 944.79,108.73 951.01,114.96 959.51,117.23 968.01,114.96 974.23,108.73"/><polygon points="987.45,97.60 985.17,89.10 978.95,82.87 970.45,80.60 961.95,82.87 955.73,89.10 953.45,97.60 955.73,106.10 961.95,112.32 970.45,114.60 978.95,112.32 985.17,106.10"/><polygon points="998.39,95.48 996.12,86.98 989.89,80.75 981.39,78.48 972.89,80.75 966.67,86.98 964.39,95.48 966.67,103.98 972.89,110.20 981.39,112.48 989.89,110.20 996.12,103.98"/><polygon points="1009.33,92.48 1007.06,83.98 1000.83,77.76 992.33,75.48 983.83,77.76 977.61,83.98 975.33,92.48 977.61,100.98 983.83,107.21 992.33,109.48 1000.83,107.21 1007.06,100.98"/><polygon points="1020.27,91.98 1018.00,83.48 1011.77,77.26 1003.27,74.98 994.77,77.26 988.55,83.48 986.27,91.98 988.55,100.48 994.77,106.70 1003.27,108.98 1011.77,106.70 1018.00,100.48"/><polygon points="1031.22,88.72 1028.94,80.22 1022.72,74.00 1014.22,71.72 1005.72,74.00 999.49,80.22 997.22,88.72 999.49,97.22 1005.72,103.44 1014.22,105.72 1022.72,103.44 1028.94,97.22"/><polygon points="1042.16,87.41 1039.88,78.91 1033.66,72.68 1025.16,70.41 1016.66,72.68 1010.43,78.91 1008.16,87.41 1010.43,95.91 1016.66,102.13 1025.16,104.41 1033.66,102.13 1039.88,95.91"/><polygon points="1053.10,85.21 1050.82,76.71 1044.60,70.48 1036.10,68.21 1027.60,70.48 1021.38,76.71 1019.10,85.21 1021.38,93.71 1027.60,99.93 1036.10,102.21 1044.60,99.93 1050.82,93.71"/><polygon points="1064.04,83.98 1061.76,75.48 1055.54,69.26 1047.04,66.98 1038.54,69.26 1032.32,75.48 1030.04,83.98 1032.32,92.48 1038.54,98.70 1047.04,100.98 1055.54,98.70 1061.76,92.48"/><polygon points="1074.98,82.32 1072.70,73.82 1066.48,67.59 1057.98,65.32 1049.48,67.59 1043.26,73.82 1040.98,82.32 1043.26,90.82 1049.48,97.04 1057.98,99.32 1066.48,97.04 1072.70,90.82"/><polygon points="1085.92,82.14 1083.64,73.64 1077.42,67.42 1068.92,65.14 1060.42,67.42 1054.20,73.64 1051.92,82.14 1054.20,90.64 1060.42,96.87 1068.92,99.14 1077.42,96.87 1083.64,90.64"/><polygon points="1096.86,79.36 1094.58,70.86 1088.36,64.64 1079.86,62.36 1071.36,64.64 1065.14,70.86 1062.86,79.36 1065.14,87.86 1071.36,94.08 1079.86,96.36 1088.36,94.08 1094.58,87.86"/><polygon points="1107.80,78.08 1105.53,69.58 1099.30,63.36 1090.80,61.08 1082.30,63.36 1076.08,69.58 1073.80,78.08 1076.08,86.58 1082.30,92.80 1090.80,95.08 1099.30,92.80 1105.53,86.58"/><polygon points="1118.74,78.85 1116.47,70.35 1110.24,64.13 1101.74,61.85 1093.24,64.13 1087.02,70.35 1084.74,78.85 1087.02,87.35 1093.24,93.58 1101.74,95.85 1110.24,93.58 1116.47,87.35"/><polygon points="1129.68,78.02 1127.41,69.52 1121.18,63.29 1112.68,61.02 1104.18,63.29 1097.96,69.52 1095.68,78.02 1097.96,86.52 1104.18,92.74 1112.68,95.02 1121.18,92.74 1127.41,86.52"/><polygon points="1140.63,77.28 1138.35,68.78 1132.13,62.56 1123.63,60.28 1115.13,62.56 1108.90,68.78 1106.63,77.28 1108.90,85.78 1115.13,92.01 1123.63,94.28 1132.13,92.01 1138.35,85.78"/><polygon points="1151.57,76.25 1149.29,67.75 1143.07,61.52 1134.57,59.25 1126.07,61.52 1119.84,67.75 1117.57,76.25 1119.84,84.75 1126.07,90.97 1134.57,93.25 1143.07,90.97 1149.29,84.75"/><polygon points="1162.51,75.49 1160.23,66.99 1154.01,60.76 1145.51,58.49 1137.01,60.76 1130.79,66.99 1128.51,75.49 1130.79,83.99 1137.01,90.21 1145.51,92.49 1154.01,90.21 1160.23,83.99"/><polygon points="1173.45,77.18 1171.17,68.68 1164.95,62.46 1156.45,60.18 1147.95,62.46 1141.73,68.68 1139.45,77.18 1141.73,85.68 1147.95,91.91 1156.45,94.18 1164.95,91.91 1171.17,85.68"/><polygon points="1184.39,76.53 1182.11,68.03 1175.89,61.81 1167.39,59.53 1158.89,61.81 1152.67,68.03 1150.39,76.53 1152.67,85.03 1158.89,91.26 1167.39,93.53 1175.89,91.26 1182.11,85.03"/><polygon points="1195.33,76.58 1193.05,68.08 1186.83,61.86 1178.33,59.58 1169.83,61.86 1163.61,68.08 1161.33,76.58 1163.61,85.08 1169.83,91.30 1178.33,93.58 1186.83,91.30 1193.05,85.08"/><polygon points="1206.27,76.39 1203.99,67.89 1197.77,61.67 1189.27,59.39 1180.77,61.67 1174.55,67.89 1172.27,76.39 1174.55,84.89 1180.77,91.11 1189.27,93.39 1197.77,91.11 1203.99,84.89"/><polygon points="1217.21,76.51 1214.94,68.01 1208.71,61.79 1200.21,59.51 1191.71,61.79 1185.49,68.01 1183.21,76.51 1185.49,85.01 1191.71,91.23 1200.21,93.51 1208.71,91.23 1214.94,85.01"/><polygon points="1228.15,75.01 1225.88,66.51 1219.65,60.29 1211.15,58.01 1202.65,60.29 1196.43,66.51 1194.15,75.01 1196.43,83.51 1202.65,89.73 1211.15,92.01 1219.65,89.73 1225.88,83.51"/><polygon points="1239.09,75.79 1236.82,67.29 1230.59,61.07 1222.09,58.79 1213.59,61.07 1207.37,67.29 1205.09,75.79 1207.37,84.29 1213.59,90.51 1222.09,92.79 1230.59,90.51 1236.82,84.29"/><polygon points="1250.04,73.88 1247.76,65.38 1241.54,59.16 1233.04,56.88 1224.54,59.16 1218.31,65.38 1216.04,73.88 1218.31,82.38 1224.54,88.60 1233.04,90.88 1241.54,88.60 1247.76,82.38"/><polygon points="1260.98,74.09 1258.70,65.59 1252.48,59.37 1243.98,57.09 1235.48,59.37 1229.25,65.59 1226.98,74.09 1229.25,82.59 1235.48,88.81 1243.98,91.09 1252.48,88.81 1258.70,82.59"/><polygon points="1271.92,75.18 1269.64,66.68 1263.42,60.45 1254.92,58.18 1246.42,60.45 1240.20,66.68 1237.92,75.18 1240.20,83.68 1246.42,89.90 1254.92,92.18 1263.42,89.90 1269.64,83.68"/><polygon points="1282.86,75.03 1280.58,66.53 1274.36,60.31 1265.86,58.03 1257.36,60.31 1251.14,66.53 1248.86,75.03 1251.14,83.53 1257.36,89.76 1265.86,92.03 1274.36,89.76 1280.58,83.53"/><polygon points="1293.80,74.64 1291.52,66.14 1285.30,59.92 1276.80,57.64 1268.30,59.92 1262.08,66.14 1259.80,74.64 1262.08,83.14 1268.30,89.36 1276.80,91.64 1285.30,89.36 1291.52,83.14"/></g>
<g fill="none" stroke="#ff00ff" stroke-width="2.75" stroke-linejoin="miter"><path d="M182.70 718.92V718.92M171.60 718.92H193.80M171.60 718.92H193.80M193.64 718.64V718.64M182.54 718.64H204.74M182.54 718.64H204.74M204.58 718.11V718.11M193.48 718.11H215.68M193.48 718.11H215.68M215.52 718.85V718.85M204.42 718.85H226.62M204.42 718.85H226.62M226.46 719.18V719.18M215.36 719.18H237.56M215.36 719.18H237.56M237.40 719.19V719.19M226.30 719.19H248.50M226.30 719.19H248.50M248.35 718.95V718.95M237.25 718.95H259.45M237.25 718.95H259.45M259.29 719.00V719.00M248.19 719.00H270.39M248.19 719.00H270.39M270.23 718.19V718.19M259.13 718.19H281.33M259.13 718.19H281.33M281.17 717.96V717.96M270.07 717.96H292.27M270.07 717.96H292.27M292.11 718.01V718.01M281.01 718.01H303.21M281.01 718.01H303.21M303.05 717.66V717.66M291.95 717.66H314.15M291.95 717.66H314.15M313.99 718.32V718.32M302.89 718.32H325.09M302.89 718.32H325.09M324.93 717.78V717.78M313.83 717.78H336.03M313.83 717.78H336.03M335.87 714.78V718.00M324.77 714.78H346.97M324.77 718.00H346.97M346.81 714.42V717.64M335.71 714.42H357.91M335.71 717.64H357.91M357.76 713.69V716.92M346.66 713.69H368.86M346.66 716.92H368.86M368.70 714.14V729.47M357.60 714.14H379.80M357.60 729.47H379.80M379.64 714.86V730.19M368.54 714.86H390.74M368.54 730.19H390.74M390.58 713.92V729.25M379.48 713.92H401.68M379.48 729.25H401.68M401.52 713.98V729.31M390.42 713.98H412.62M390.42 729.31H412.62M412.46 714.20V717.43M401.36 714.20H423.56M401.36 717.43H423.56M423.40 713.68V716.91M412.30 713.68H434.50M412.30 716.91H434.50M434.34 712.65V715.88M423.24 712.65H445.44M423.24 715.88H445.44M445.28 712.08V715.31M434.18 712.08H456.38M434.18 715.31H456.38M456.22 712.87V716.10M445.12 712.87H467.32M445.12 716.10H467.32M467.17 711.83V715.06M456.07 711.83H478.27M456.07 715.06H478.27M478.11 711.36V727.49M467.01 711.36H489.21M467.01 727.49H489.21M489.05 712.02V728.15M477.95 712.02H500.15M477.95 728.15H500.15M499.99 710.31V726.45M488.89 710.31H511.09M488.89 726.45H511.09M510.93 708.81V724.95M499.83 708.81H522.03M499.83 724.95H522.03M521.87 707.59V723.73M510.77 707.59H532.97M510.77 723.73H532.97M532.81 707.41V716.81M521.71 707.41H543.91M521.71 716.81H543.91M543.75 705.73V715.79M532.65 705.73H554.85M532.65 715.79H554.85M554.69 703.90V714.63M543.59 703.90H565.79M543.59 714.63H565.79M565.63 702.53V713.92M554.53 702.53H576.74M554.53 713.92H576.74M576.58 700.70V712.76M565.48 700.70H587.68M565.48 712.76H587.68M587.52 700.08V712.80M576.42 700.08H598.62M576.42 712.80H598.62M598.46 697.51V710.89M587.36 697.51H609.56M587.36 710.89H609.56M609.40 696.37V710.42M598.30 696.37H620.50M598.30 710.42H620.50M620.34 694.72V709.43M609.24 694.72H631.44M609.24 709.43H631.44M631.28 690.67V706.05M620.18 690.67H642.38M620.18 706.05H642.38M642.22 688.39V704.43M631.12 688.39H653.32M631.12 704.43H653.32M653.16 685.14V701.85M642.06 685.14H664.26M642.06 701.85H664.26M664.10 682.62V699.99M653.00 682.62H675.20M653.00 699.99H675.20M675.04 676.26V694.29M663.94 676.26H686.14M663.94 694.29H686.14M685.99 670.75V689.45M674.89 670.75H697.09M674.89 689.45H697.09M696.93 664.23V683.59M685.83 664.23H708.03M685.83 683.59H708.03M707.87 638.60V669.26M696.77 638.60H718.97M696.77 669.26H718.97M718.81 540.98V687.81M707.71 540.98H729.91M707.71 687.81H729.91M729.75 231.97V549.85M718.65 231.97H740.85M718.65 549.85H740.85M740.69 219.87V287.64M729.59 219.87H751.79M729.59 287.64H751.79M751.63 221.48V234.39M740.53 221.48H762.73M740.53 234.39H762.73M762.57 202.12V218.26M751.47 202.12H773.67M751.47 218.26H773.67M773.51 196.20V196.20M762.41 196.20H784.61M762.41 196.20H784.61M784.45 182.94V182.94M773.35 182.94H795.55M773.35 182.94H795.55M795.40 169.87V169.87M784.30 169.87H806.50M784.30 169.87H806.50M806.34 159.71V159.71M795.24 159.71H817.44M795.24 159.71H817.44M817.28 149.84V149.84M806.18 149.84H828.38M806.18 149.84H828.38M828.22 141.62V141.62M817.12 141.62H839.32M817.12 141.62H839.32M839.16 133.50V133.50M828.06 133.50H850.26M828.06 133.50H850.26M850.10 129.03V129.03M839.00 129.03H861.20M839.00 129.03H861.20M861.04 126.08V126.08M849.94 126.08H872.14M849.94 126.08H872.14M871.98 120.31V120.31M860.88 120.31H883.08M860.88 120.31H883.08M882.92 118.66V118.66M871.82 118.66H894.02M871.82 118.66H894.02M893.87 115.74V115.74M882.76 115.74H904.97M882.76 115.74H904.97M904.81 110.36V110.36M893.71 110.36H915.91M893.71 110.36H915.91M915.75 108.59V108.59M904.65 108.59H926.85M904.65 108.59H926.85M926.69 104.66V104.66M915.59 104.66H937.79M915.59 104.66H937.79M937.63 101.75V101.75M926.53 101.75H948.73M926.53 101.75H948.73M948.57 100.36V100.36M937.47 100.36H959.67M937.47 100.36H959.67M959.51 98.02V98.02M948.41 98.02H970.61M948.41 98.02H970.61M970.45 95.97V95.97M959.35 95.97H981.55M959.35 95.97H981.55M981.39 93.60V93.60M970.29 93.60H992.49M970.29 93.60H992.49M992.33 92.50V92.50M981.23 92.50H1003.43M981.23 92.50H1003.43M1003.27 90.36V90.36M992.17 90.36H1014.37M992.17 90.36H1014.37M1014.22 87.65V87.65M1003.12 87.65H1025.32M1003.12 87.65H1025.32M1025.16 85.12V85.12M1014.06 85.12H1036.26M1014.06 85.12H1036.26M1036.10 83.77V83.77M1025.00 83.77H1047.20M1025.00 83.77H1047.20M1047.04 81.63V81.63M1035.94 81.63H1058.14M1035.94 81.63H1058.14M1057.98 81.06V81.06M1046.88 81.06H1069.08M1046.88 81.06H1069.08M1068.92 80.72V80.72M1057.82 80.72H1080.02M1057.82 80.72H1080.02M1079.86 79.42V79.42M1068.76 79.42H1090.96M1068.76 79.42H1090.96M1090.80 79.68V79.68M1079.70 79.68H1101.90M1079.70 79.68H1101.90M1101.74 78.13V78.13M1090.64 78.13H1112.84M1090.64 78.13H1112.84M1112.68 77.46V77.46M1101.59 77.46H1123.78M1101.59 77.46H1123.78M1123.63 76.09V76.09M1112.53 76.09H1134.73M1112.53 76.09H1134.73M1134.57 75.43V75.43M1123.47 75.43H1145.67M1123.47 75.43H1145.67M1145.51 75.86V75.86M1134.41 75.86H1156.61M1134.41 75.86H1156.61M1156.45 75.58V75.58M1145.35 75.58H1167.55M1145.35 75.58H1167.55M1167.39 75.92V75.92M1156.29 75.92H1178.49M1156.29 75.92H1178.49M1178.33 74.77V74.77M1167.23 74.77H1189.43M1167.23 74.77H1189.43M1189.27 74.30V74.30M1178.17 74.30H1200.37M1178.17 74.30H1200.37M1200.21 73.96V73.96M1189.11 73.96H1211.31M1189.11 73.96H1211.31M1211.15 74.54V74.54M1200.05 74.54H1222.25M1200.05 74.54H1222.25M1222.09 72.55V72.55M1210.99 72.55H1233.19M1210.99 72.55H1233.19M1233.04 72.87V72.87M1221.94 72.87H1244.14M1221.94 72.87H1244.14M1243.98 73.53V73.53M1232.88 73.53H1255.08M1232.88 73.53H1255.08M1254.92 73.64V73.64M1243.82 73.64H1266.02M1243.82 73.64H1266.02M1265.86 73.37V73.37M1254.76 73.37H1276.96M1254.76 73.37H1276.96M1276.80 72.94V72.94M1265.70 72.94H1287.90M1265.70 72.94H1287.90"/><path d="M182.70 695.22L202.60 729.72L162.80 729.72Z"/><path d="M193.64 694.94L213.54 729.44L173.74 729.44Z"/><path d="M204.58 694.41L224.48 728.91L184.68 728.91Z"/><path d="M215.52 695.15L235.42 729.65L195.62 729.65Z"/><path d="M226.46 695.48L246.36 729.98L206.56 729.98Z"/><path d="M237.40 695.49L257.30 729.99L217.50 729.99Z"/><path d="M248.35 695.25L268.25 729.75L228.45 729.75Z"/><path d="M259.29 695.30L279.19 729.80L239.39 729.80Z"/><path d="M270.23 694.49L290.13 728.99L250.33 728.99Z"/><path d="M281.17 694.26L301.07 728.76L261.27 728.76Z"/><path d="M292.11 694.31L312.01 728.81L272.21 728.81Z"/><path d="M303.05 693.96L322.95 728.46L283.15 728.46Z"/><path d="M313.99 694.62L333.89 729.12L294.09 729.12Z"/><path d="M324.93 694.08L344.83 728.58L305.03 728.58Z"/><path d="M335.87 694.30L355.77 728.80L315.97 728.80Z"/><path d="M346.81 693.94L366.71 728.44L326.91 728.44Z"/><path d="M357.76 693.22L377.66 727.72L337.86 727.72Z"/><path d="M368.70 693.67L388.60 728.17L348.80 728.17Z"/><path d="M379.64 694.39L399.54 728.89L359.74 728.89Z"/><path d="M390.58 693.45L410.48 727.95L370.68 727.95Z"/><path d="M401.52 693.50L421.42 728.00L381.62 728.00Z"/><path d="M412.46 693.73L432.36 728.23L392.56 728.23Z"/><path d="M423.40 693.21L443.30 727.71L403.50 727.71Z"/><path d="M434.34 692.18L454.24 726.68L414.44 726.68Z"/><path d="M445.28 691.61L465.18 726.11L425.38 726.11Z"/><path d="M456.22 692.40L476.12 726.90L436.32 726.90Z"/><path d="M467.17 691.36L487.07 725.86L447.27 725.86Z"/><path d="M478.11 690.89L498.01 725.39L458.21 725.39Z"/><path d="M489.05 691.54L508.95 726.04L469.15 726.04Z"/><path d="M499.99 689.84L519.89 724.34L480.09 724.34Z"/><path d="M510.93 688.34L530.83 722.84L491.03 722.84Z"/><path d="M521.87 687.12L541.77 721.62L501.97 721.62Z"/><path d="M532.81 686.94L552.71 721.44L512.91 721.44Z"/><path d="M543.75 685.26L563.65 719.76L523.85 719.76Z"/><path d="M554.69 683.43L574.59 717.93L534.79 717.93Z"/><path d="M565.63 682.06L585.53 716.56L545.74 716.56Z"/><path d="M576.58 680.23L596.48 714.73L556.68 714.73Z"/><path d="M587.52 679.61L607.42 714.11L567.62 714.11Z"/><path d="M598.46 677.04L618.36 711.54L578.56 711.54Z"/><path d="M609.40 675.89L629.30 710.39L589.50 710.39Z"/><path d="M620.34 674.24L640.24 708.74L600.44 708.74Z"/><path d="M631.28 670.20L651.18 704.70L611.38 704.70Z"/><path d="M642.22 667.92L662.12 702.42L622.32 702.42Z"/><path d="M653.16 664.67L673.06 699.17L633.26 699.17Z"/><path d="M664.10 662.15L684.00 696.65L644.20 696.65Z"/><path d="M675.04 655.78L694.94 690.28L655.14 690.28Z"/><path d="M685.99 650.28L705.89 684.78L666.09 684.78Z"/><path d="M696.93 643.76L716.83 678.26L677.03 678.26Z"/><path d="M707.87 630.23L727.77 664.73L687.97 664.73Z"/><path d="M718.81 590.70L738.71 625.20L698.91 625.20Z"/><path d="M729.75 367.21L749.65 401.71L709.85 401.71Z"/><path d="M740.69 230.06L760.59 264.56L720.79 264.56Z"/><path d="M751.63 204.24L771.53 238.74L731.73 238.74Z"/><path d="M762.57 186.49L782.47 220.99L742.67 220.99Z"/><path d="M773.51 172.50L793.41 207.00L753.61 207.00Z"/><path d="M784.45 159.24L804.35 193.74L764.55 193.74Z"/><path d="M795.40 146.17L815.30 180.67L775.50 180.67Z"/><path d="M806.34 136.01L826.24 170.51L786.44 170.51Z"/><path d="M817.28 126.14L837.18 160.64L797.38 160.64Z"/><path d="M828.22 117.92L848.12 152.42L808.32 152.42Z"/><path d="M839.16 109.80L859.06 144.30L819.26 144.30Z"/><path d="M850.10 105.33L870.00 139.83L830.20 139.83Z"/><path d="M861.04 102.38L880.94 136.88L841.14 136.88Z"/><path d="M871.98 96.61L891.88 131.11L852.08 131.11Z"/><path d="M882.92 94.96L902.82 129.46L863.02 129.46Z"/><path d="M893.87 92.04L913.76 126.54L873.97 126.54Z"/><path d="M904.81 86.66L924.71 121.16L884.91 121.16Z"/><path d="M915.75 84.89L935.65 119.39L895.85 119.39Z"/><path d="M926.69 80.96L946.59 115.46L906.79 115.46Z"/><path d="M937.63 78.05L957.53 112.55L917.73 112.55Z"/><path d="M948.57 76.66L968.47 111.16L928.67 111.16Z"/><path d="M959.51 74.32L979.41 108.82L939.61 108.82Z"/><path d="M970.45 72.27L990.35 106.77L950.55 106.77Z"/><path d="M981.39 69.90L1001.29 104.40L961.49 104.40Z"/><path d="M992.33 68.80L1012.23 103.30L972.43 103.30Z"/><path d="M1003.27 66.66L1023.17 101.16L983.37 101.16Z"/><path d="M1014.22 63.95L1034.12 98.45L994.32 98.45Z"/><path d="M1025.16 61.42L1045.06 95.92L1005.26 95.92Z"/><path d="M1036.10 60.07L1056.00 94.57L1016.20 94.57Z"/><path d="M1047.04 57.93L1066.94 92.43L1027.14 92.43Z"/><path d="M1057.98 57.36L1077.88 91.86L1038.08 91.86Z"/><path d="M1068.92 57.02L1088.82 91.52L1049.02 91.52Z"/><path d="M1079.86 55.72L1099.76 90.22L1059.96 90.22Z"/><path d="M1090.80 55.98L1110.70 90.48L1070.90 90.48Z"/><path d="M1101.74 54.43L1121.64 88.93L1081.84 88.93Z"/><path d="M1112.68 53.76L1132.59 88.26L1092.78 88.26Z"/><path d="M1123.63 52.39L1143.53 86.89L1103.73 86.89Z"/><path d="M1134.57 51.73L1154.47 86.23L1114.67 86.23Z"/><path d="M1145.51 52.16L1165.41 86.66L1125.61 86.66Z"/><path d="M1156.45 51.88L1176.35 86.38L1136.55 86.38Z"/><path d="M1167.39 52.22L1187.29 86.72L1147.49 86.72Z"/><path d="M1178.33 51.07L1198.23 85.57L1158.43 85.57Z"/><path d="M1189.27 50.60L1209.17 85.10L1169.37 85.10Z"/><path d="M1200.21 50.26L1220.11 84.76L1180.31 84.76Z"/><path d="M1211.15 50.84L1231.05 85.34L1191.25 85.34Z"/><path d="M1222.09 48.85L1241.99 83.35L1202.19 83.35Z"/><path d="M1233.04 49.17L1252.94 83.67L1213.14 83.67Z"/><path d="M1243.98 49.83L1263.88 84.33L1224.08 84.33Z"/><path d="M1254.92 49.94L1274.82 84.44L1235.02 84.44Z"/><path d="M1265.86 49.67L1285.76 84.17L1245.96 84.17Z"/><path d="M1276.80 49.24L1296.70 83.74L1256.90 83.74Z"/></g>
<polyline points="182.70,823.36 193.64,823.36 204.58,823.36 215.52,823.36 226.46,823.36 237.40,823.36 248.35,823.36 259.29,823.36 270.23,823.36 281.17,823.36 292.11,823.36 303.05,823.36 313.99,823.36 324.93,823.36 335.87,823.36 346.81,823.36 357.76,823.36 368.70,823.36 379.64,823.36 390.58,823.36 401.52,823.36 412.46,823.36 423.40,823.36 434.34,823.36 445.28,823.36 456.22,823.36 467.17,823.36 478.11,823.36 489.05,823.36 499.99,823.36 510.93,823.36 521.87,823.36 532.81,823.36 543.75,823.36 554.69,823.36 565.63,823.36 576.58,823.36 587.52,823.36 598.46,823.36 609.40,823.36 620.34,823.36 631.28,823.36 642.22,823.36 653.16,823.36 664.10,823.36 675.04,823.36 685.99,823.36 696.93,823.36 707.87,823.36 718.81,823.36 729.75,823.36 740.69,823.36 751.63,823.36 762.57,823.36 773.51,823.36 784.45,823.36 795.40,823.36 806.34,823.36 817.28,823.36 828.22,823.36 839.16,823.36 850.10,823.36 861.04,823.36 871.98,823.36 882.92,823.36 893.87,823.36 904.81,823.36 915.75,823.36 926.69,823.36 937.63,823.36 948.57,823.36 959.51,823.36 970.45,823.36 981.39,823.36 992.33,823.36 1003.27,823.36 1014.22,823.36 1025.16,823.36 1036.10,823.36 1047.04,823.36 1057.98,823.36 1068.92,823.36 1079.86,823.36 1090.80,823.36 1101.74,823.36 1112.68,823.36 1123.63,823.36 1134.57,823.36 1145.51,823.36 1156.45,823.36 1167.39,823.36 1178.33,823.36 1189.27,823.36 1200.21,823.36 1211.15,823.36 1222.09,823.36 1233.04,823.36 1243.98,823.36 1254.92,823.36 1265.86,823.36 1276.80,823.36" fill="none" stroke="#ff0000" stroke-width="10.8" stroke-linejoin="round" stroke-linecap="butt"/>
<polyline points="182.70,799.56 193.64,799.56 204.58,799.55 215.52,799.55 226.46,799.55 237.40,799.54 248.35,799.54 259.29,799.53 270.23,799.52 281.17,799.51 292.11,799.50 303.05,799.49 313.99,799.48 324.93,799.47 335.87,799.46 346.81,799.44 357.76,799.43 368.70,799.41 379.64,799.39 390.58,799.38 401.52,799.36 412.46,799.34 423.40,799.32 434.34,799.30 445.28,799.28 456.22,799.26 467.17,799.24 478.11,799.22 489.05,799.20 499.99,799.18 510.93,799.15 521.87,799.13 532.81,799.10 543.75,799.06 554.69,799.02 565.63,798.98 576.58,798.93 587.52,798.88 598.46,798.82 609.40,798.76 620.34,798.70 631.28,798.63 642.22,798.56 653.16,798.48 664.10,798.40 675.04,798.32 685.99,798.23 696.93,798.14 707.87,798.05 718.81,797.96 729.75,797.86 740.69,797.76 751.63,797.65 762.57,797.55 773.51,797.44 784.45,797.33 795.40,797.21 806.34,797.09 817.28,796.98 828.22,796.86 839.16,796.73 850.10,796.61 861.04,796.47 871.98,796.33 882.92,796.18 893.87,796.01 904.81,795.83 915.75,795.64 926.69,795.44 937.63,795.22 948.57,794.98 959.51,794.73 970.45,794.45 981.39,794.16 992.33,793.84 1003.27,793.51 1014.22,793.11 1025.16,792.61 1036.10,792.01 1047.04,791.31 1057.98,790.53 1068.92,789.64 1079.86,788.66 1090.80,787.48 1101.74,785.91 1112.68,783.82 1123.63,780.45 1134.57,775.76 1145.51,81.91 1156.45,81.17 1167.39,80.49 1178.33,79.91 1189.27,79.49 1200.21,79.17 1211.15,78.88 1222.09,78.60 1233.04,78.36 1243.98,78.16 1254.92,78.01 1265.86,77.91 1276.80,77.87" fill="none" stroke="#0000ff" stroke-width="10.8" stroke-linejoin="round" stroke-linecap="butt"/>
<polyline points="182.70,759.22 193.64,759.21 204.58,759.20 215.52,759.18 226.46,759.16 237.40,759.12 248.35,759.08 259.29,759.04 270.23,758.99 281.17,758.93 292.11,758.87 303.05,758.80 313.99,758.73 324.93,758.65 335.87,758.57 346.81,758.48 357.76,758.39 368.70,758.30 379.64,758.21 390.58,758.11 401.52,758.01 412.46,757.89 423.40,757.74 434.34,757.56 445.28,757.35 456.22,757.12 467.17,756.87 478.11,756.60 489.05,756.31 499.99,756.00 510.93,755.68 521.87,755.35 532.81,755.02 543.75,754.67 554.69,754.32 565.63,753.97 576.58,753.62 587.52,753.26 598.46,752.89 609.40,752.48 620.34,752.04 631.28,751.54 642.22,750.99 653.16,750.36 664.10,749.62 675.04,748.55 685.99,747.20 696.93,745.69 707.87,744.15 718.81,742.68 729.75,741.35 740.69,740.06 751.63,738.70 762.57,737.12 773.51,735.23 784.45,732.88 795.40,729.77 806.34,725.17 817.28,716.16 828.22,698.30 839.16,151.29 850.10,135.32 861.04,131.69 871.98,128.49 882.92,125.07 893.87,121.23 904.81,117.32 915.75,113.55 926.69,110.15 937.63,107.14 948.57,104.38 959.51,101.77 970.45,99.25 981.39,96.74 992.33,94.28 1003.27,91.99 1014.22,89.98 1025.16,88.21 1036.10,86.60 1047.04,85.16 1057.98,83.92 1068.92,82.81 1079.86,81.76 1090.80,80.79 1101.74,79.93 1112.68,79.22 1123.63,78.68 1134.57,78.27 1145.51,77.92 1156.45,77.62 1167.39,77.35 1178.33,77.10 1189.27,76.88 1200.21,76.66 1211.15,76.45 1222.09,76.25 1233.04,76.06 1243.98,75.88 1254.92,75.72 1265.86,75.58 1276.80,75.45" fill="none" stroke="#000000" stroke-width="10.8" stroke-linejoin="round" stroke-linecap="butt"/>
<polyline points="182.70,719.28 193.64,719.27 204.58,719.23 215.52,719.17 226.46,719.08 237.40,718.98 248.35,718.86 259.29,718.71 270.23,718.55 281.17,718.37 292.11,718.18 303.05,717.97 313.99,717.75 324.93,717.52 335.87,717.27 346.81,717.02 357.76,716.76 368.70,716.49 379.64,716.21 390.58,715.93 401.52,715.65 412.46,715.34 423.40,714.99 434.34,714.60 445.28,714.16 456.22,713.67 467.17,713.13 478.11,712.53 489.05,711.88 499.99,711.17 510.93,710.41 521.87,709.42 532.81,708.15 543.75,706.69 554.69,705.16 565.63,703.52 576.58,701.70 587.52,699.79 598.46,697.90 609.40,696.06 620.34,694.11 631.28,692.04 642.22,689.43 653.16,684.99 664.10,680.55 675.04,676.52 685.99,672.08 696.93,664.82 707.87,653.93 718.81,634.57 729.75,285.22 740.69,255.37 751.63,233.59 762.57,215.03 773.51,200.51 784.45,186.51 795.40,173.88 806.34,163.66 817.28,154.52 828.22,145.14 839.16,137.58 850.10,132.90 861.04,129.27 871.98,126.07 882.92,122.65 893.87,118.81 904.81,114.90 915.75,111.13 926.69,107.73 937.63,104.72 948.57,101.96 959.51,99.35 970.45,96.83 981.39,94.32 992.33,91.86 1003.27,89.57 1014.22,87.56 1025.16,85.79 1036.10,84.18 1047.04,82.74 1057.98,81.50 1068.92,80.39 1079.86,79.34 1090.80,78.37 1101.74,77.51 1112.68,76.80 1123.63,76.26 1134.57,75.85 1145.51,75.50 1156.45,75.20 1167.39,74.93 1178.33,74.68 1189.27,74.46 1200.21,74.24 1211.15,74.03 1222.09,73.83 1233.04,73.64 1243.98,73.46 1254.92,73.30 1265.86,73.16 1276.80,73.03" fill="none" stroke="#ff00ff" stroke-width="10.8" stroke-linejoin="round" stroke-linecap="butt"/>
</g>
<path d="M182.70 872.30V859.50M182.70 1.20V14.00M292.11 872.30V859.50M292.11 1.20V14.00M401.52 872.30V859.50M401.52 1.20V14.00M510.93 872.30V859.50M510.93 1.20V14.00M620.34 872.30V859.50M620.34 1.20V14.00M729.75 872.30V859.50M729.75 1.20V14.00M839.16 872.30V859.50M839.16 1.20V14.00M948.57 872.30V859.50M948.57 1.20V14.00M1057.98 872.30V859.50M1057.98 1.20V14.00M1167.39 872.30V859.50M1167.39 1.20V14.00M1276.80 872.30V859.50M1276.80 1.20V14.00M161.00 840.30H173.80M1298.70 840.30H1285.90M161.00 678.94H173.80M1298.70 678.94H1285.90M161.00 517.58H173.80M1298.70 517.58H1285.90M161.00 356.22H173.80M1298.70 356.22H1285.90M161.00 194.86H173.80M1298.70 194.86H1285.90M161.00 33.50H173.80M1298.70 33.50H1285.90" stroke="#262626" stroke-width="2.9" fill="none"/><rect x="161.00" y="1.20" width="1137.70" height="871.10" fill="none" stroke="#262626" stroke-width="2.9"/>
<g font-family="Liberation Sans" font-size="44.0" fill="#262626" stroke="#262626" stroke-width="0.3"><g transform="translate(0,941.00) scale(1,1.035) translate(0,-941.00)"><text x="170.47" y="941.00">0</text></g><g transform="translate(0,941.00) scale(1,1.035) translate(0,-941.00)"><text x="261.53" y="941.00">0.</text><path d="M313.98,909.40L313.98,941.00L309.68,941.00L309.68,917.20C307.48,919.00 304.98,920.00 302.28,920.40L302.28,916.70C306.48,915.00 309.48,912.50 311.28,909.40Z" stroke="none"/></g><g transform="translate(0,941.00) scale(1,1.035) translate(0,-941.00)"><text x="370.94" y="941.00">0.2</text></g><g transform="translate(0,941.00) scale(1,1.035) translate(0,-941.00)"><text x="480.35" y="941.00">0.3</text></g><g transform="translate(0,941.00) scale(1,1.035) translate(0,-941.00)"><text x="589.76" y="941.00">0.4</text></g><g transform="translate(0,941.00) scale(1,1.035) translate(0,-941.00)"><text x="699.17" y="941.00">0.5</text></g><g transform="translate(0,941.00) scale(1,1.035) translate(0,-941.00)"><text x="808.58" y="941.00">0.6</text></g><g transform="translate(0,941.00) scale(1,1.035) translate(0,-941.00)"><text x="917.99" y="941.00">0.7</text></g><g transform="translate(0,941.00) scale(1,1.035) translate(0,-941.00)"><text x="1027.40" y="941.00">0.8</text></g><g transform="translate(0,941.00) scale(1,1.035) translate(0,-941.00)"><text x="1136.81" y="941.00">0.9</text></g><g transform="translate(0,941.00) scale(1,1.035) translate(0,-941.00)"><path d="M1280.32,909.40L1280.32,941.00L1276.02,941.00L1276.02,917.20C1273.82,919.00 1271.32,920.00 1268.62,920.40L1268.62,916.70C1272.82,915.00 1275.82,912.50 1277.62,909.40Z" stroke="none"/></g><g transform="translate(0,857.70) scale(1,1.035) translate(0,-857.70)"><text x="113.14" y="857.70">0</text></g><g transform="translate(0,696.34) scale(1,1.035) translate(0,-696.34)"><text x="76.44" y="696.34">0.2</text></g><g transform="translate(0,534.98) scale(1,1.035) translate(0,-534.98)"><text x="76.44" y="534.98">0.4</text></g><g transform="translate(0,373.62) scale(1,1.035) translate(0,-373.62)"><text x="76.44" y="373.62">0.6</text></g><g transform="translate(0,212.26) scale(1,1.035) translate(0,-212.26)"><text x="76.44" y="212.26">0.8</text></g><g transform="translate(0,50.90) scale(1,1.035) translate(0,-50.90)"><path d="M130.89,19.30L130.89,50.90L126.59,50.90L126.59,27.10C124.39,28.90 121.89,29.90 119.19,30.30L119.19,26.60C123.39,24.90 126.39,22.40 128.19,19.30Z" stroke="none"/></g></g>
<g fill="#000"><rect x="218.4" y="58.5" width="362" height="244.9" fill="#fff" stroke="#1a1a1a" stroke-width="2.8"/><g fill="none" stroke="#ff0000" stroke-width="2.75"><rect x="286.80" y="81.40" width="26.80" height="26.80"/></g><text x="381" y="107.0" font-family="Liberation Serif" font-style="italic" font-size="46">&#961;</text><text x="401" y="113.8" font-family="Liberation Serif" font-size="33">0</text><rect x="435.4" y="88.85" width="30.8" height="2.3"/><rect x="435.4" y="98.10" width="30.8" height="2.3"/><text x="482" y="107.0" font-family="Liberation Serif" font-size="46">0.02</text><g fill="none" stroke="#0000ff" stroke-width="2.75"><path d="M300.20 129.65L317.10 152.35L300.20 175.05L283.30 152.35Z"/></g><text x="381" y="164.5" font-family="Liberation Serif" font-style="italic" font-size="46">&#961;</text><text x="401" y="171.3" font-family="Liberation Serif" font-size="33">0</text><rect x="435.4" y="146.40" width="30.8" height="2.3"/><rect x="435.4" y="155.65" width="30.8" height="2.3"/><text x="482" y="164.5" font-family="Liberation Serif" font-size="46">0.05</text><g fill="none" stroke="#000000" stroke-width="2.75"><polygon points="317.20,209.85 314.92,201.35 308.70,195.13 300.20,192.85 291.70,195.13 285.48,201.35 283.20,209.85 285.48,218.35 291.70,224.57 300.20,226.85 308.70,224.57 314.92,218.35"/></g><text x="381" y="222.0" font-family="Liberation Serif" font-style="italic" font-size="46">&#961;</text><text x="401" y="228.8" font-family="Liberation Serif" font-size="33">0</text><rect x="435.4" y="203.90" width="30.8" height="2.3"/><rect x="435.4" y="213.15" width="30.8" height="2.3"/><text x="482" y="222.0" font-family="Liberation Serif" font-size="46">0.10</text><g fill="none" stroke="#ff00ff" stroke-width="2.75"><path d="M300.20 243.65L320.10 278.15L280.30 278.15Z"/></g><text x="381" y="279.6" font-family="Liberation Serif" font-style="italic" font-size="46">&#961;</text><text x="401" y="286.4" font-family="Liberation Serif" font-size="33">0</text><rect x="435.4" y="261.40" width="30.8" height="2.3"/><rect x="435.4" y="270.65" width="30.8" height="2.3"/><text x="482" y="279.6" font-family="Liberation Serif" font-size="46">0.15</text></g>
<text x="713" y="1009.7" font-family="Liberation Serif" font-style="italic" font-size="50" fill="#262626">&#945;</text>
<g transform="translate(40,503) rotate(-90)" fill="#262626"><text x="1" y="-0.8" font-family="Liberation Serif" font-style="italic" font-size="55">H</text><path d="M62,-39.75 A33.5,33.5 0 0 0 62,13.25 L61.2,13.25 A42.8,42.8 0 0 1 61.2,-39.75 Z"/><path d="M117,-39.75 A33.5,33.5 0 0 1 117,13.25 L117.8,13.25 A42.8,42.8 0 0 0 117.8,-39.75 Z"/><path d="M90.10,-12.40 C93.83,-8.70 97.57,-1.30 101.30,-1.30 C107.46,-1.30 112.50,-6.30 112.50,-12.40 C112.50,-18.50 107.46,-23.50 101.30,-23.50 C97.57,-23.50 93.83,-16.10 90.10,-12.40 C86.37,-8.70 82.63,-1.30 78.90,-1.30 C72.74,-1.30 67.70,-6.30 67.70,-12.40 C67.70,-18.50 72.74,-23.50 78.90,-23.50 C82.63,-23.50 86.37,-16.10 90.10,-12.40Z" fill="none" stroke="#262626" stroke-width="2.1"/><path d="M81.23,-22.11 C85.43,-19.80 87.30,-15.64 90.10,-12.40 C92.90,-9.16 94.77,-5.00 98.97,-2.69" fill="none" stroke="#262626" stroke-width="3.6" stroke-linecap="round"/></g>
</svg>
</body></html>
